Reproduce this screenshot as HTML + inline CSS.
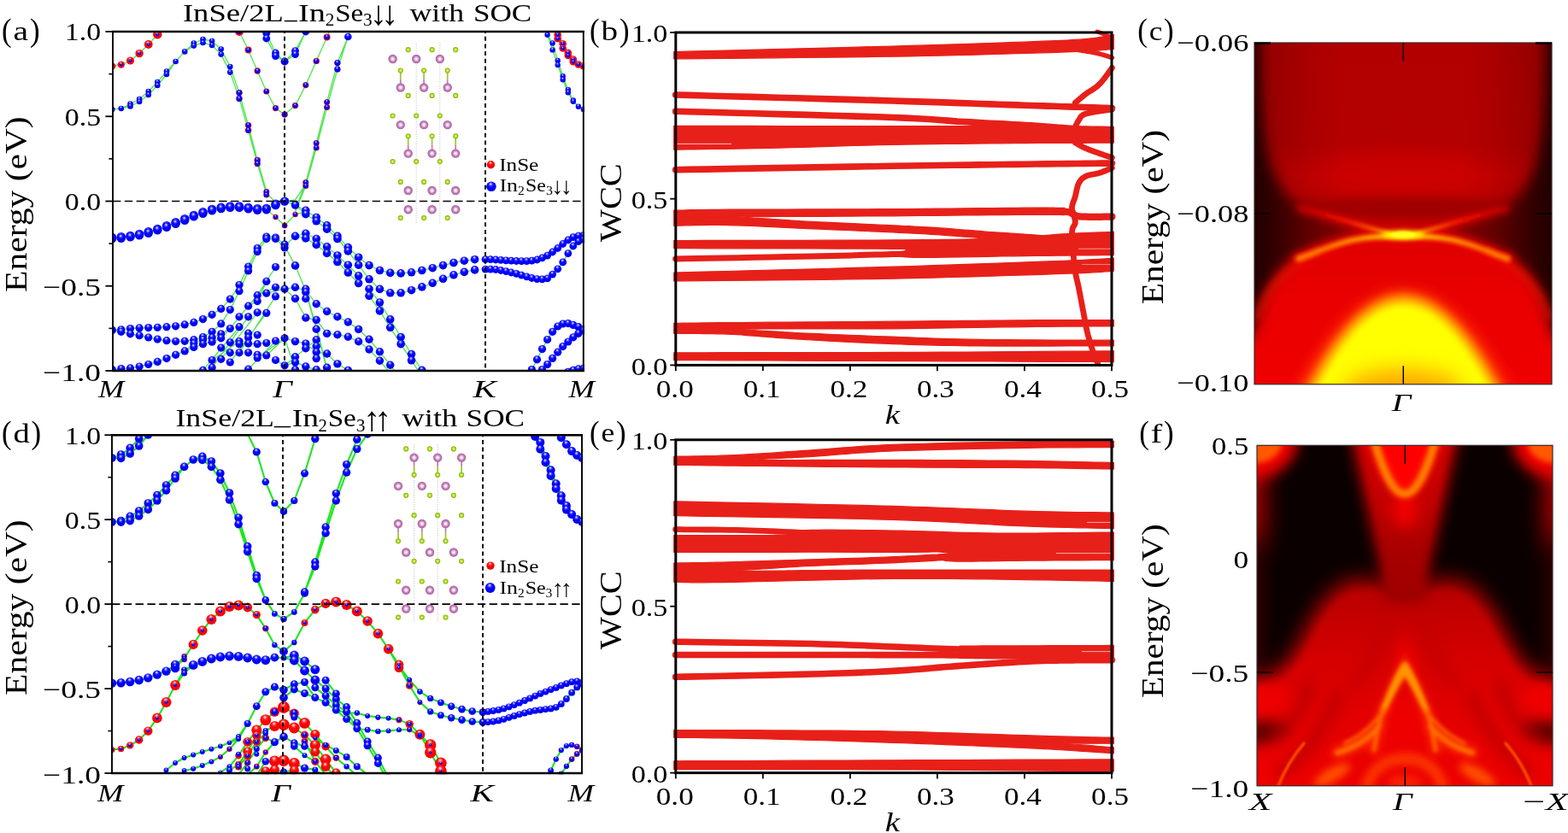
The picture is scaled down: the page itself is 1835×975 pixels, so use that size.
<!DOCTYPE html>
<html><head><meta charset="utf-8"><title>Figure</title>
<style>
html,body{margin:0;padding:0;background:#fff;}
svg{display:block;font-family:"Liberation Serif",serif;}
</style></head><body>
<svg width="1835" height="975" viewBox="0 0 1835 975">
<rect width="1835" height="975" fill="#fff"/>
<defs>
<filter id="b1" filterUnits="userSpaceOnUse" x="1380" y="0" width="520" height="975"><feGaussianBlur stdDeviation="1.2"/></filter>
<filter id="b2" filterUnits="userSpaceOnUse" x="1380" y="0" width="520" height="975"><feGaussianBlur stdDeviation="2"/></filter>
<filter id="b3" filterUnits="userSpaceOnUse" x="1380" y="0" width="520" height="975"><feGaussianBlur stdDeviation="3"/></filter>
<filter id="b5" filterUnits="userSpaceOnUse" x="1380" y="0" width="520" height="975"><feGaussianBlur stdDeviation="5"/></filter>
<filter id="b8" filterUnits="userSpaceOnUse" x="1380" y="0" width="520" height="975"><feGaussianBlur stdDeviation="8"/></filter>
<filter id="b12" filterUnits="userSpaceOnUse" x="1380" y="0" width="520" height="975"><feGaussianBlur stdDeviation="12"/></filter>
<clipPath id="clc"><rect x="1468" y="50" width="348" height="399.8"/></clipPath>
<clipPath id="clf"><rect x="1471" y="521.3" width="346" height="398.5"/></clipPath>
<linearGradient id="cbase" x1="0" y1="50" x2="0" y2="450" gradientUnits="userSpaceOnUse">
 <stop offset="0" stop-color="#b20000"/><stop offset="0.3" stop-color="#b40000"/>
 <stop offset="0.39" stop-color="#c60000"/><stop offset="0.44" stop-color="#c00000"/>
 <stop offset="0.485" stop-color="#a20000"/><stop offset="0.53" stop-color="#c80000"/>
 <stop offset="0.6" stop-color="#e00000"/><stop offset="0.75" stop-color="#ea0000"/><stop offset="1" stop-color="#f00000"/>
</linearGradient>
<linearGradient id="cside" x1="1468" y1="0" x2="1642" y2="0" gradientUnits="userSpaceOnUse">
 <stop offset="0" stop-color="#000" stop-opacity="0.4"/><stop offset="0.1" stop-color="#000" stop-opacity="0.16"/>
 <stop offset="0.4" stop-color="#000" stop-opacity="0.04"/><stop offset="0.6" stop-color="#000" stop-opacity="0"/>
</linearGradient>
<linearGradient id="csideR" x1="1816" y1="0" x2="1642" y2="0" gradientUnits="userSpaceOnUse">
 <stop offset="0" stop-color="#000" stop-opacity="0.4"/><stop offset="0.1" stop-color="#000" stop-opacity="0.16"/>
 <stop offset="0.4" stop-color="#000" stop-opacity="0.04"/><stop offset="0.6" stop-color="#000" stop-opacity="0"/>
</linearGradient>
<linearGradient id="cdark" x1="1440" y1="0" x2="1625" y2="0" gradientUnits="userSpaceOnUse">
 <stop offset="0" stop-color="#140000"/><stop offset="0.25" stop-color="#2c0000"/>
 <stop offset="0.5" stop-color="#600000"/><stop offset="1" stop-color="#a00000"/>
</linearGradient>
<linearGradient id="cdarkR" x1="1844" y1="0" x2="1659" y2="0" gradientUnits="userSpaceOnUse">
 <stop offset="0" stop-color="#140000"/><stop offset="0.25" stop-color="#2c0000"/>
 <stop offset="0.5" stop-color="#600000"/><stop offset="1" stop-color="#a00000"/>
</linearGradient>
<linearGradient id="carm" x1="1515" y1="0" x2="1769" y2="0" gradientUnits="userSpaceOnUse">
 <stop offset="0" stop-color="#d80000" stop-opacity="0.15"/><stop offset="0.14" stop-color="#e80800" stop-opacity="0.8"/><stop offset="0.27" stop-color="#ff2400"/>
 <stop offset="0.38" stop-color="#ff8000"/><stop offset="0.45" stop-color="#ffe000"/><stop offset="0.5" stop-color="#ffff00"/>
 <stop offset="0.55" stop-color="#ffe000"/><stop offset="0.62" stop-color="#ff8000"/><stop offset="0.73" stop-color="#ff2400"/><stop offset="0.86" stop-color="#e80800" stop-opacity="0.8"/>
 <stop offset="1" stop-color="#d80000" stop-opacity="0.15"/>
</linearGradient>
<linearGradient id="carm2" x1="1515" y1="0" x2="1769" y2="0" gradientUnits="userSpaceOnUse">
 <stop offset="0" stop-color="#ff5800"/><stop offset="0.1" stop-color="#ff7800"/>
 <stop offset="0.28" stop-color="#ff9800"/><stop offset="0.4" stop-color="#ffc800"/><stop offset="0.5" stop-color="#ffff00"/>
 <stop offset="0.6" stop-color="#ffc800"/><stop offset="0.72" stop-color="#ff9800"/><stop offset="0.9" stop-color="#ff7800"/>
 <stop offset="1" stop-color="#ff5800"/>
</linearGradient>
<linearGradient id="ffun" x1="0" y1="521" x2="0" y2="700" gradientUnits="userSpaceOnUse">
 <stop offset="0" stop-color="#d60000"/><stop offset="0.35" stop-color="#c40000"/><stop offset="0.7" stop-color="#a80000"/><stop offset="1" stop-color="#a00000"/>
</linearGradient>
<linearGradient id="fval" x1="0" y1="670" x2="0" y2="920" gradientUnits="userSpaceOnUse">
 <stop offset="0" stop-color="#b00000"/><stop offset="0.2" stop-color="#c40000"/><stop offset="0.45" stop-color="#d80000"/><stop offset="0.7" stop-color="#e40000"/><stop offset="1" stop-color="#ee0000"/>
</linearGradient>
</defs>
<g clip-path="url(#clc)">
<rect x="1468" y="50" width="348" height="400" fill="url(#cbase)"/>
<ellipse cx="1642" cy="206" rx="95" ry="24" fill="#cc0000" filter="url(#b12)"/>
<ellipse cx="1642" cy="243" rx="95" ry="10" fill="#9c0000" filter="url(#b8)"/>
<rect x="1468" y="50" width="174" height="244" fill="url(#cside)"/>
<rect x="1642" y="50" width="174" height="244" fill="url(#csideR)"/>
<g filter="url(#b8)">
<path d="M 1430.0,30.0 L 1471.0,30.0 1472.0,60.0 1474.0,110.0 1478.0,155.0 1486.0,192.0 1500.0,222.0 1518.0,241.0 1560.0,257.0 1595.0,267.5 1622.0,273.5 1595.0,277.5 1560.0,283.5 1532.0,293.0 1512.0,304.0 1498.0,317.0 1487.0,332.0 1478.0,350.0 1471.0,372.0 1466.0,392.0 1430.0,396.0 Z " fill="url(#cdark)"/>
<path d="M 1854.0,30.0 L 1813.0,30.0 1812.0,60.0 1810.0,110.0 1806.0,155.0 1798.0,192.0 1784.0,222.0 1766.0,241.0 1724.0,257.0 1689.0,267.5 1662.0,273.5 1689.0,277.5 1724.0,283.5 1752.0,293.0 1772.0,304.0 1786.0,317.0 1797.0,332.0 1806.0,350.0 1813.0,372.0 1818.0,392.0 1854.0,396.0 Z " fill="url(#cdarkR)"/>
</g>
<g filter="url(#b5)" opacity="0.55">
<path d="M 1470.0,372.0 C 1482.0,340.0 1500.0,318.0 1524.0,306.0" fill="none" stroke="#ff2000" stroke-width="7" stroke-linecap="round"/>
<path d="M 1814.0,372.0 C 1802.0,340.0 1784.0,318.0 1760.0,306.0" fill="none" stroke="#ff2000" stroke-width="7" stroke-linecap="round"/>
</g>
<g filter="url(#b5)" opacity="0.8">
<path d="M 1519.0,303.0 C 1540.0,296.0 1558.0,286.5 1583.0,281.0 S 1622.0,277.0 1642.0,277.0" fill="none" stroke="#ff1000" stroke-width="13" stroke-linecap="round"/>
<path d="M 1765.0,303.0 C 1744.0,296.0 1726.0,286.5 1701.0,281.0 S 1662.0,277.0 1642.0,277.0" fill="none" stroke="#ff1000" stroke-width="13" stroke-linecap="round"/>
<path d="M 1521.0,244.0 C 1548.0,249.0 1585.0,262.0 1612.0,269.5 S 1632.0,273.0 1642.0,273.0" fill="none" stroke="#e00000" stroke-width="8" stroke-linecap="round"/>
<path d="M 1763.0,244.0 C 1736.0,249.0 1699.0,262.0 1672.0,269.5 S 1652.0,273.0 1642.0,273.0" fill="none" stroke="#e00000" stroke-width="8" stroke-linecap="round"/>
</g>
<g filter="url(#b2)">
<path d="M 1521.0,244.0 C 1548.0,249.0 1585.0,262.0 1612.0,269.5 S 1632.0,273.0 1642.0,273.0" fill="none" stroke="url(#carm)" stroke-width="4.2" stroke-linecap="round"/>
<path d="M 1763.0,244.0 C 1736.0,249.0 1699.0,262.0 1672.0,269.5 S 1652.0,273.0 1642.0,273.0" fill="none" stroke="url(#carm)" stroke-width="4.2" stroke-linecap="round"/>
<path d="M 1519.0,303.0 C 1540.0,296.0 1558.0,286.5 1583.0,281.0 S 1622.0,277.0 1642.0,277.0" fill="none" stroke="url(#carm2)" stroke-width="5.5" stroke-linecap="round"/>
<path d="M 1765.0,303.0 C 1744.0,296.0 1726.0,286.5 1701.0,281.0 S 1662.0,277.0 1642.0,277.0" fill="none" stroke="url(#carm2)" stroke-width="5.5" stroke-linecap="round"/>
<path d="M 1520.0,302.6 C 1528.0,300.0 1536.0,297.0 1544.0,293.4" fill="none" stroke="#ff7800" stroke-width="7" stroke-linecap="round"/>
<path d="M 1764.0,302.6 C 1756.0,300.0 1748.0,297.0 1740.0,293.4" fill="none" stroke="#ff7800" stroke-width="7" stroke-linecap="round"/>
</g>
<ellipse cx="1642" cy="274.8" rx="23" ry="4.2" fill="#ffff00" filter="url(#b3)"/>
<ellipse cx="1642" cy="274.8" rx="15" ry="3.2" fill="#ffff20" filter="url(#b1)"/>
<path d="M 1504,480 Q 1642.5,196 1781,480 Z" fill="#ff3000" filter="url(#b8)" opacity="0.9"/>
<path d="M 1515,480 Q 1642.5,208 1770,480 Z" fill="#ff9000" filter="url(#b5)"/>
<path d="M 1526,480 Q 1642.5,228 1759,480 Z" fill="#ffff00" filter="url(#b5)"/>
<ellipse cx="1642" cy="458" rx="70" ry="26" fill="#ffa800" filter="url(#b12)"/>
</g>
<g clip-path="url(#clf)">
<rect x="1471" y="521" width="346" height="400" fill="#0a0000"/>
<g filter="url(#b12)">
<rect x="1436" y="500" width="46" height="140" fill="#a00000"/>
<rect x="1806" y="500" width="46" height="140" fill="#a00000"/>
<rect x="1440" y="620" width="36" height="170" fill="#3a0000"/>
<rect x="1812" y="620" width="36" height="170" fill="#3a0000"/>
</g>
<path d="M 1430.0,796.0 L 1471.0,794.0 1492.0,788.0 1508.0,774.0 1522.0,750.0 1538.0,718.0 1556.0,694.0 1574.0,681.0 1592.0,677.0 1612.0,680.0 1630.0,688.0 1644.0,694.0 1658.0,688.0 1676.0,680.0 1696.0,677.0 1714.0,681.0 1732.0,694.0 1750.0,718.0 1766.0,750.0 1780.0,774.0 1796.0,788.0 1817.0,794.0 1860.0,796.0 1860.0,960.0 1430.0,960.0 Z " fill="url(#fval)" filter="url(#b12)"/>
<path d="M 1430.0,812.0 L 1471.0,808.0 1496.0,800.0 1514.0,784.0 1530.0,758.0 1546.0,728.0 1562.0,706.0 1580.0,694.0 1598.0,690.0 1620.0,694.0 1644.0,704.0 1668.0,694.0 1690.0,690.0 1708.0,694.0 1726.0,706.0 1742.0,728.0 1758.0,758.0 1774.0,784.0 1792.0,800.0 1817.0,808.0 1860.0,812.0 1860.0,960.0 1430.0,960.0 Z " fill="url(#fval)" filter="url(#b5)"/>
<path d="M 1573,470 L 1715,470 L 1673,665 L 1668,705 L 1620,705 L 1615,665 Z" fill="url(#ffun)" filter="url(#b8)"/>
<path d="M 1584,470 L 1704,470 L 1668,650 L 1662,700 L 1626,700 L 1620,650 Z" fill="url(#ffun)" filter="url(#b5)" opacity="0.7"/>
<g filter="url(#b8)"><ellipse cx="1466" cy="516" rx="52" ry="44" fill="#f00000"/><ellipse cx="1822" cy="516" rx="52" ry="44" fill="#f00000"/></g>
<g filter="url(#b3)"><ellipse cx="1468" cy="518" rx="32" ry="24" fill="#ff5800"/><ellipse cx="1820" cy="518" rx="32" ry="24" fill="#ff5800"/></g>
<path d="M 1606,500 Q 1644,654 1682,500 Z" fill="#ff0000" filter="url(#b5)"/>
<ellipse cx="1644" cy="596" rx="15" ry="22" fill="#f00000" filter="url(#b8)"/>
<path d="M 1604,500 Q 1644,656 1684,500" fill="none" stroke="#ff3800" stroke-width="14" filter="url(#b3)" opacity="0.85"/>
<path d="M 1604,500 Q 1644,656 1684,500" fill="none" stroke="#ff7c00" stroke-width="8" filter="url(#b2)"/>
<g filter="url(#b8)">
<ellipse cx="1476" cy="857" rx="34" ry="13" transform="rotate(-8 1476 857)" fill="#5a0000"/>
<ellipse cx="1812" cy="857" rx="34" ry="13" transform="rotate(8 1812 857)" fill="#5a0000"/>
<path d="M 1490.0,858.0 C 1512.0,852.0 1524.0,835.0 1532.0,800.0" fill="none" stroke="#a80000" stroke-width="9" stroke-linecap="round" opacity="0.9"/>
<path d="M 1798.0,858.0 C 1776.0,852.0 1764.0,835.0 1756.0,800.0" fill="none" stroke="#a80000" stroke-width="9" stroke-linecap="round" opacity="0.9"/>
<path d="M 1500.0,905.0 C 1530.0,880.0 1552.0,850.0 1565.0,815.0" fill="none" stroke="#b80000" stroke-width="14" stroke-linecap="round" opacity="0.8"/>
<path d="M 1788.0,905.0 C 1758.0,880.0 1736.0,850.0 1723.0,815.0" fill="none" stroke="#b80000" stroke-width="14" stroke-linecap="round" opacity="0.8"/>
<path d="M 1585.0,800.0 C 1600.0,790.0 1612.0,760.0 1622.0,730.0" fill="none" stroke="#c00000" stroke-width="14" stroke-linecap="round" opacity="0.7"/>
<path d="M 1703.0,800.0 C 1688.0,790.0 1676.0,760.0 1666.0,730.0" fill="none" stroke="#c00000" stroke-width="14" stroke-linecap="round" opacity="0.7"/>
</g>
<g filter="url(#b8)">
<ellipse cx="1483" cy="818" rx="26" ry="16" fill="#f00000"/><ellipse cx="1805" cy="818" rx="26" ry="16" fill="#f00000"/>
<ellipse cx="1644" cy="860" rx="26" ry="45" fill="#ee0000"/>
<path d="M 1644,735 L 1654,790 L 1634,790 Z" fill="#ff1000"/>
</g>
<g filter="url(#b5)">
<path d="M 1598,925 C 1606,898 1622,888 1644,888 C 1666,888 1682,898 1690,925" fill="none" stroke="#ff4000" stroke-width="13" opacity="0.85"/>
<ellipse cx="1644" cy="916" rx="20" ry="9" fill="#ff3000" opacity="0.7"/>
<ellipse cx="1559" cy="907" rx="24" ry="8" transform="rotate(-30 1559 907)" fill="#ff5000"/>
<ellipse cx="1729" cy="907" rx="24" ry="8" transform="rotate(30 1729 907)" fill="#ff5000"/>
</g>
<g filter="url(#b1)">
<path d="M 1495.0,922.0 C 1503.0,902.0 1512.0,886.0 1526.0,870.0" fill="none" stroke="#ff5400" stroke-width="3.2" stroke-linecap="round"/>
<path d="M 1793.0,922.0 C 1785.0,902.0 1776.0,886.0 1762.0,870.0" fill="none" stroke="#ff5400" stroke-width="3.2" stroke-linecap="round"/>
</g>
<g filter="url(#b5)" opacity="0.85">
<path d="M 1644.0,781.0 C 1637.0,789.0 1631.0,804.0 1623.5,821.0 S 1613.0,846.0 1608.0,878.0" fill="none" stroke="#ff2800" stroke-width="13" stroke-linecap="round"/>
<path d="M 1644.0,781.0 C 1651.0,789.0 1657.0,804.0 1664.5,821.0 S 1675.0,846.0 1680.0,878.0" fill="none" stroke="#ff2800" stroke-width="13" stroke-linecap="round"/>
<path d="M 1614.0,850.0 C 1601.0,866.0 1586.0,875.0 1565.0,881.0" fill="none" stroke="#ff3000" stroke-width="14" stroke-linecap="round"/>
<path d="M 1674.0,850.0 C 1687.0,866.0 1702.0,875.0 1723.0,881.0" fill="none" stroke="#ff3000" stroke-width="14" stroke-linecap="round"/>
</g>
<g filter="url(#b2)">
<path d="M 1644.0,781.0 C 1637.0,789.0 1631.0,804.0 1623.5,821.0 S 1613.0,846.0 1608.0,878.0" fill="none" stroke="#ff6800" stroke-width="4.5" stroke-linecap="round"/>
<path d="M 1644.0,781.0 C 1651.0,789.0 1657.0,804.0 1664.5,821.0 S 1675.0,846.0 1680.0,878.0" fill="none" stroke="#ff6800" stroke-width="4.5" stroke-linecap="round"/>
<path d="M 1644.0,775.0 C 1649.0,780.0 1655.0,792.0 1662.0,808.0 L 1672.0,832.0 1668.0,834.0 C 1660.0,818.0 1652.0,800.0 1644.0,790.0 C 1636.0,800.0 1628.0,818.0 1620.0,834.0 L 1616.0,832.0 1626.0,808.0 C 1633.0,792.0 1639.0,780.0 1644.0,775.0 Z " fill="#ff9400" stroke="#ff9000" stroke-width="2.5" stroke-linejoin="round"/>
<path d="M 1620.0,830.0 C 1607.0,850.0 1592.0,862.0 1574.0,870.0" fill="none" stroke="#ff6000" stroke-width="4" stroke-linecap="round"/>
<path d="M 1668.0,830.0 C 1681.0,850.0 1696.0,862.0 1714.0,870.0" fill="none" stroke="#ff6000" stroke-width="4" stroke-linecap="round"/>
<path d="M 1614.0,850.0 C 1601.0,866.0 1586.0,875.0 1565.0,881.0" fill="none" stroke="#ff7000" stroke-width="5.5" stroke-linecap="round"/>
<path d="M 1674.0,850.0 C 1687.0,866.0 1702.0,875.0 1723.0,881.0" fill="none" stroke="#ff7000" stroke-width="5.5" stroke-linecap="round"/>
</g>
</g>
<g>
<path d="M788.6,60.6 L804.3,60.2 L825.1,59.7 L849.9,59.1 L877.6,58.4 L907.1,57.6 L937.4,56.8 L967.5,56.1 L996.1,55.3 L1022.3,54.6 L1045.0,54.0 L1065.0,53.4 L1083.8,52.9 L1101.6,52.3 L1118.4,51.8 L1134.2,51.3 L1149.0,50.8 L1162.9,50.3 L1176.1,49.9 L1188.4,49.4 L1200.0,49.0 L1210.6,48.6 L1220.0,48.2 L1228.4,47.9 L1235.9,47.6 L1242.6,47.3 L1248.7,47.0 L1254.4,46.7 L1259.7,46.4 L1264.9,46.0 L1270.0,45.6 L1275.0,45.1 L1279.6,44.6 L1283.8,44.0 L1287.6,43.4 L1291.1,42.8 L1294.2,42.3 L1297.0,41.7 L1299.4,41.2 L1301.6,40.8 L1303.4,40.5 L1303.4,57.4 L1301.6,57.6 L1299.4,57.8 L1297.0,58.0 L1294.2,58.3 L1291.1,58.5 L1287.6,58.8 L1283.8,59.2 L1279.6,59.5 L1275.0,59.7 L1270.0,60.0 L1264.9,60.2 L1259.7,60.5 L1254.4,60.7 L1248.7,60.9 L1242.6,61.1 L1235.9,61.3 L1228.4,61.6 L1220.0,61.8 L1210.6,62.1 L1200.0,62.4 L1188.4,62.7 L1176.1,63.1 L1162.9,63.5 L1149.0,63.9 L1134.2,64.3 L1118.4,64.7 L1101.6,65.1 L1083.8,65.5 L1065.0,65.9 L1045.0,66.2 L1022.3,66.5 L996.1,66.9 L967.5,67.2 L937.4,67.5 L907.1,67.8 L877.6,68.1 L849.9,68.4 L825.1,68.6 L804.3,68.8 L788.6,69.0Z" fill="#e8201a" stroke="#e8201a" stroke-width="1.2" stroke-linejoin="round"/>
<path d="M1262.0,58.5 L1263.1,58.7 L1264.5,58.9 L1266.3,59.2 L1268.2,59.5 L1270.2,59.8 L1272.4,60.2 L1274.5,60.5 L1276.5,60.9 L1278.4,61.2 L1280.0,61.5 L1281.5,61.8 L1282.8,62.1 L1284.1,62.4 L1285.4,62.7 L1286.5,63.0 L1287.7,63.3 L1288.8,63.6 L1289.9,63.9 L1290.9,64.2 L1292.0,64.5 L1293.1,64.8 L1294.2,65.1 L1295.3,65.5 L1296.4,65.8 L1297.5,66.2 L1298.4,66.5 L1299.4,66.8 L1300.2,67.1 L1300.9,67.3 L1301.4,67.5" fill="none" stroke="#e8201a" stroke-width="5.5" stroke-linecap="round" stroke-linejoin="round"/>
<path d="M1284.0,37.0 L1284.5,37.2 L1285.1,37.4 L1285.8,37.6 L1286.6,37.9 L1287.5,38.2 L1288.4,38.6 L1289.3,38.9 L1290.3,39.3 L1291.2,39.6 L1292.0,40.0 L1292.8,40.4 L1293.7,40.8 L1294.7,41.3 L1295.6,41.7 L1296.5,42.2 L1297.4,42.6 L1298.2,43.1 L1298.9,43.4 L1299.5,43.8 L1300.0,44.0" fill="none" stroke="#e8201a" stroke-width="5" stroke-linecap="round" stroke-linejoin="round"/>
<path d="M790.6,111.0 L806.3,111.4 L827.1,112.0 L852.0,112.7 L879.8,113.4 L909.4,114.2 L939.6,115.0 L969.4,115.9 L997.7,116.6 L1023.3,117.4 L1045.0,118.0 L1063.6,118.6 L1080.7,119.1 L1096.3,119.6 L1110.7,120.1 L1124.0,120.6 L1136.4,121.0 L1148.0,121.5 L1159.1,121.9 L1169.7,122.2 L1180.0,122.6 L1189.7,122.9 L1198.5,123.2 L1206.4,123.5 L1213.6,123.7 L1220.2,123.9 L1226.5,124.1 L1232.4,124.3 L1238.2,124.5 L1244.0,124.7 L1250.0,124.9 L1256.1,125.1 L1262.3,125.3 L1268.4,125.5 L1274.4,125.7 L1280.1,125.9 L1285.4,126.1 L1290.3,126.2 L1294.7,126.4 L1298.4,126.5 L1301.4,126.6" fill="none" stroke="#e8201a" stroke-width="7.6" stroke-linecap="round" stroke-linejoin="round"/>
<path d="M790.6,130.3 L806.5,130.7 L828.0,131.3 L853.7,132.0 L882.3,132.8 L912.7,133.6 L943.4,134.4 L973.3,135.3 L1001.1,136.1 L1025.4,136.8 L1045.0,137.5 L1060.2,138.1 L1072.6,138.7 L1082.6,139.2 L1090.6,139.7 L1097.3,140.2 L1103.1,140.7 L1108.5,141.1 L1113.9,141.6 L1119.9,142.1 L1127.0,142.5 L1134.7,142.9 L1142.4,143.4 L1150.1,143.8 L1157.7,144.2 L1165.1,144.6 L1172.5,144.9 L1179.6,145.3 L1186.6,145.7 L1193.4,146.1 L1200.0,146.5 L1206.5,146.9 L1213.2,147.4 L1219.8,147.8 L1226.3,148.3 L1232.6,148.8 L1238.4,149.2 L1243.9,149.6 L1248.7,150.0 L1252.7,150.3 L1256.0,150.5" fill="none" stroke="#e8201a" stroke-width="7.6" stroke-linecap="round" stroke-linejoin="round"/>
<path d="M788.6,147.3 L804.6,147.3 L826.3,147.3 L852.2,147.4 L881.1,147.4 L911.7,147.5 L942.7,147.5 L972.8,147.5 L1000.8,147.6 L1025.3,147.6 L1045.0,147.6 L1060.1,147.6 L1071.8,147.6 L1080.9,147.6 L1088.1,147.6 L1094.0,147.6 L1099.2,147.6 L1104.4,147.6 L1110.4,147.6 L1117.7,147.6 L1127.0,147.6 L1138.4,147.6 L1151.1,147.6 L1164.8,147.6 L1179.1,147.6 L1193.7,147.7 L1208.0,147.7 L1221.8,147.7 L1234.7,147.7 L1246.2,147.8 L1256.0,147.8 L1264.3,147.8 L1271.5,147.9 L1277.7,148.0 L1283.1,148.0 L1287.8,148.1 L1291.8,148.2 L1295.2,148.3 L1298.3,148.3 L1300.9,148.4 L1303.4,148.4 L1303.4,167.2 L1297.5,167.2 L1290.2,167.2 L1281.6,167.2 L1272.0,167.3 L1261.4,167.3 L1250.0,167.3 L1238.1,167.4 L1225.6,167.4 L1212.9,167.5 L1200.0,167.6 L1186.5,167.7 L1172.1,167.8 L1157.0,168.0 L1141.2,168.1 L1125.1,168.3 L1108.8,168.5 L1092.4,168.7 L1076.2,168.9 L1060.3,169.1 L1045.0,169.4 L1029.9,169.7 L1014.8,170.1 L999.7,170.5 L984.7,170.9 L969.8,171.4 L955.1,171.9 L940.7,172.3 L926.7,172.7 L913.1,173.1 L900.0,173.4 L887.0,173.7 L873.8,173.9 L860.6,174.2 L847.7,174.4 L835.2,174.5 L823.5,174.7 L812.8,174.9 L803.2,175.0 L795.1,175.1 L788.6,175.2Z" fill="#e8201a" stroke="#e8201a" stroke-width="1.2" stroke-linejoin="round"/>
<path d="M 792,168.4 L 856,168.4" stroke="#fff" stroke-width="0.9" opacity="0.8"/>
<path d="M790.6,198.7 L806.2,198.4 L826.8,198.1 L851.4,197.6 L878.8,197.1 L908.1,196.6 L938.2,196.1 L968.0,195.6 L996.4,195.1 L1022.4,194.7 L1045.0,194.3 L1064.8,194.0 L1083.2,193.7 L1100.5,193.5 L1116.7,193.3 L1132.1,193.1 L1146.6,192.9 L1160.6,192.7 L1174.0,192.5 L1187.1,192.4 L1200.0,192.2 L1212.8,192.0 L1225.3,191.9 L1237.6,191.7 L1249.3,191.6 L1260.4,191.5 L1270.7,191.4 L1280.1,191.2 L1288.5,191.1 L1295.6,191.1 L1301.4,191.0" fill="none" stroke="#e8201a" stroke-width="7.6" stroke-linecap="round" stroke-linejoin="round"/>
<path d="M1301.4,79.4 L1300.8,80.3 L1299.9,81.4 L1299.0,82.8 L1297.9,84.3 L1296.7,86.0 L1295.5,87.7 L1294.3,89.3 L1293.1,90.9 L1292.0,92.4 L1291.0,93.6 L1290.1,94.7 L1289.3,95.6 L1288.6,96.5 L1287.8,97.3 L1287.1,98.1 L1286.4,98.8 L1285.6,99.5 L1284.8,100.3 L1284.0,101.0 L1283.0,101.8 L1281.9,102.6 L1280.8,103.4 L1279.6,104.2 L1278.4,105.0 L1277.1,105.8 L1275.8,106.6 L1274.5,107.4 L1273.1,108.2 L1271.9,109.1 L1270.6,110.0 L1269.3,111.0 L1267.9,112.1 L1266.5,113.3 L1265.1,114.5 L1263.7,115.7 L1262.3,116.8 L1261.1,117.9 L1260.0,118.9 L1259.0,119.7 L1258.3,120.3" fill="none" stroke="#e8201a" stroke-width="6.8" stroke-linecap="round" stroke-linejoin="round"/>
<path d="M1301.4,128.0 L1299.5,128.3 L1296.8,128.7 L1293.7,129.1 L1290.2,129.6 L1286.5,130.1 L1282.8,130.7 L1279.1,131.3 L1275.8,131.9 L1272.9,132.6 L1270.6,133.2 L1268.8,133.9 L1267.4,134.6 L1266.3,135.3 L1265.5,136.0 L1264.8,136.8 L1264.3,137.6 L1263.8,138.4 L1263.4,139.2 L1263.0,140.0 L1262.4,140.8 L1261.8,141.6 L1261.3,142.5 L1260.7,143.5 L1260.3,144.4 L1259.8,145.4 L1259.4,146.3 L1259.1,147.1 L1258.8,147.9 L1258.5,148.5 L1258.3,149.0" fill="none" stroke="#e8201a" stroke-width="6.8" stroke-linecap="round" stroke-linejoin="round"/>
<path d="M1258.3,167.0 L1259.0,167.4 L1259.9,167.9 L1261.0,168.5 L1262.1,169.2 L1263.4,169.9 L1264.8,170.7 L1266.2,171.4 L1267.7,172.2 L1269.1,172.9 L1270.6,173.6 L1272.1,174.2 L1273.6,174.9 L1275.3,175.5 L1277.0,176.1 L1278.7,176.8 L1280.4,177.4 L1282.1,178.0 L1283.8,178.6 L1285.4,179.1 L1287.0,179.7 L1288.6,180.3 L1290.2,180.8 L1291.9,181.4 L1293.6,181.9 L1295.2,182.5 L1296.8,183.0 L1298.2,183.5 L1299.5,183.9 L1300.6,184.2 L1301.4,184.5" fill="none" stroke="#e8201a" stroke-width="6.8" stroke-linecap="round" stroke-linejoin="round"/>
<path d="M1301.4,196.5 L1300.6,196.9 L1299.5,197.3 L1298.2,197.9 L1296.8,198.5 L1295.2,199.1 L1293.6,199.8 L1291.9,200.5 L1290.2,201.2 L1288.6,201.8 L1287.0,202.3 L1285.4,202.8 L1283.7,203.2 L1282.0,203.5 L1280.2,203.9 L1278.4,204.2 L1276.7,204.5 L1275.0,204.9 L1273.4,205.3 L1271.9,205.8 L1270.6,206.4 L1269.4,207.0 L1268.4,207.7 L1267.4,208.3 L1266.5,209.0 L1265.7,209.8 L1265.0,210.6 L1264.3,211.5 L1263.6,212.4 L1263.0,213.5 L1262.4,214.6 L1261.8,215.9 L1261.3,217.3 L1260.9,218.8 L1260.5,220.4 L1260.1,222.0 L1259.7,223.7 L1259.4,225.4 L1259.0,227.0 L1258.7,228.6 L1258.3,230.0 L1257.9,231.4 L1257.4,232.7 L1257.0,234.0 L1256.5,235.3 L1256.0,236.6 L1255.6,237.8 L1255.2,239.0 L1254.9,240.2 L1254.7,241.2 L1254.5,242.3 L1254.5,243.3 L1254.5,244.2 L1254.6,245.0 L1254.8,245.8 L1255.0,246.5 L1255.3,247.3 L1255.6,248.0 L1255.8,248.8 L1256.1,249.6 L1256.3,250.5 L1256.5,251.4 L1256.8,252.4 L1257.1,253.4 L1257.4,254.5 L1257.6,255.5 L1257.9,256.6 L1258.1,257.7 L1258.3,258.7 L1258.3,259.8 L1258.3,260.8 L1258.1,261.7 L1257.8,262.6 L1257.4,263.3 L1257.0,264.0 L1256.5,264.8 L1256.0,265.6 L1255.5,266.6 L1255.1,267.8 L1254.8,269.2 L1254.6,271.0 L1254.5,273.2 L1254.6,275.7 L1254.7,278.6 L1254.9,281.6 L1255.1,284.8 L1255.3,288.1 L1255.6,291.3 L1255.9,294.3 L1256.1,297.2 L1256.3,299.7 L1256.5,302.0 L1256.6,304.1 L1256.8,306.0 L1257.0,307.8 L1257.1,309.6 L1257.3,311.3 L1257.5,313.0 L1257.8,314.7 L1258.0,316.4 L1258.3,318.2 L1258.6,320.0 L1259.0,321.7 L1259.3,323.3 L1259.7,324.9 L1260.1,326.6 L1260.5,328.3 L1260.9,330.1 L1261.4,332.1 L1261.9,334.3 L1262.4,336.7 L1262.9,339.5 L1263.5,342.5 L1264.2,345.9 L1264.8,349.4 L1265.5,353.0 L1266.2,356.6 L1266.8,360.1 L1267.5,363.5 L1268.1,366.7 L1268.6,369.5 L1269.1,372.0 L1269.5,374.4 L1269.9,376.6 L1270.3,378.6 L1270.7,380.5 L1271.0,382.4 L1271.4,384.2 L1271.8,386.1 L1272.2,388.0 L1272.7,390.0 L1273.2,392.1 L1273.8,394.2 L1274.4,396.3 L1275.0,398.5 L1275.7,400.6 L1276.3,402.7 L1276.9,404.8 L1277.6,406.8 L1278.2,408.7 L1278.8,410.5 L1279.4,412.3 L1280.1,414.0 L1280.7,415.7 L1281.4,417.4 L1282.0,419.0 L1282.6,420.5 L1283.2,421.9 L1283.7,423.1 L1284.2,424.2 L1284.5,425.0" fill="none" stroke="#e8201a" stroke-width="6.8" stroke-linecap="round" stroke-linejoin="round"/>
<path d="M788.6,246.2 L791.8,246.1 L795.1,246.1 L798.9,246.0 L803.2,245.9 L808.2,245.7 L814.3,245.6 L821.5,245.5 L830.0,245.4 L840.1,245.3 L852.0,245.2 L866.2,245.1 L882.9,245.1 L901.6,245.0 L921.7,245.0 L942.8,244.9 L964.3,244.9 L985.8,244.8 L1006.8,244.8 L1026.7,244.7 L1045.0,244.6 L1062.5,244.5 L1080.2,244.3 L1097.7,244.2 L1115.0,244.0 L1131.7,243.8 L1147.7,243.7 L1162.7,243.5 L1176.6,243.4 L1189.1,243.3 L1200.0,243.2 L1209.2,243.2 L1216.9,243.1 L1223.3,243.1 L1228.5,243.2 L1232.7,243.2 L1236.1,243.3 L1239.0,243.3 L1241.5,243.3 L1243.8,243.4 L1246.0,243.4 L1246.0,251.6 L1243.8,251.6 L1241.5,251.5 L1239.0,251.5 L1236.1,251.5 L1232.7,251.4 L1228.5,251.4 L1223.3,251.3 L1216.9,251.3 L1209.2,251.4 L1200.0,251.4 L1188.9,251.5 L1175.8,251.6 L1161.2,251.7 L1145.4,251.9 L1128.7,252.0 L1111.5,252.2 L1094.2,252.4 L1077.1,252.5 L1060.6,252.7 L1045.0,252.8 L1029.7,252.9 L1013.8,253.0 L997.7,253.1 L981.6,253.2 L965.8,253.3 L950.5,253.3 L936.1,253.4 L922.6,253.5 L910.5,253.5 L900.0,253.6 L891.3,253.7 L884.4,253.7 L879.0,253.7 L874.6,253.7 L870.9,253.8 L867.7,253.8 L864.5,253.8 L861.0,253.9 L857.0,253.9 L852.0,254.0 L846.0,254.1 L839.3,254.3 L832.1,254.4 L824.7,254.6 L817.3,254.8 L810.1,255.0 L803.4,255.1 L797.5,255.3 L792.4,255.4 L788.6,255.5Z" fill="#e8201a" stroke="#e8201a" stroke-width="1.2" stroke-linejoin="round"/>
<path d="M1244.0,247.5 L1244.5,247.5 L1245.0,247.6 L1245.7,247.6 L1246.4,247.7 L1247.2,247.8 L1248.1,247.8 L1249.1,248.0 L1250.0,248.1 L1251.0,248.3 L1252.0,248.6 L1252.9,249.0 L1253.7,249.4 L1254.5,249.9 L1255.3,250.5 L1256.2,251.1 L1257.2,251.6 L1258.4,252.2 L1259.9,252.7 L1261.8,253.1 L1264.0,253.4 L1266.9,253.6 L1270.5,253.7 L1274.5,253.8 L1278.9,253.8 L1283.5,253.8 L1287.9,253.8 L1292.1,253.7 L1295.9,253.6 L1299.1,253.6 L1301.4,253.6" fill="none" stroke="#e8201a" stroke-width="8.2" stroke-linecap="round" stroke-linejoin="round"/>
<path d="M788.6,253.0 L792.4,253.0 L797.5,253.0 L803.4,253.1 L810.1,253.1 L817.3,253.1 L824.7,253.2 L832.1,253.3 L839.3,253.3 L846.0,253.5 L852.0,253.6 L857.4,253.8 L862.6,254.0 L867.5,254.2 L872.2,254.5 L876.8,254.7 L881.4,255.0 L885.9,255.3 L890.5,255.6 L895.2,255.9 L900.0,256.2 L904.7,256.5 L909.2,256.8 L913.4,257.1 L917.7,257.4 L922.1,257.7 L926.7,258.0 L931.6,258.3 L937.1,258.7 L943.2,259.0 L950.0,259.4 L957.9,259.8 L966.8,260.2 L976.5,260.7 L986.7,261.1 L997.2,261.6 L1007.7,262.1 L1018.0,262.5 L1027.8,263.0 L1036.9,263.4 L1045.0,263.8 L1052.1,264.1 L1058.5,264.5 L1064.3,264.7 L1069.6,265.0 L1074.7,265.3 L1079.6,265.5 L1084.4,265.8 L1089.3,266.1 L1094.5,266.4 L1100.0,266.8 L1105.7,267.2 L1111.2,267.6 L1116.7,268.0 L1122.2,268.5 L1127.8,269.0 L1133.6,269.4 L1139.6,269.9 L1146.0,270.4 L1152.8,271.0 L1160.0,271.5 L1168.2,272.1 L1177.5,272.7 L1187.6,273.4 L1198.2,274.1 L1208.8,274.8 L1219.0,275.5 L1228.7,276.1 L1237.3,276.7 L1244.5,277.1 L1250.0,277.5 L1250.0,285.5 L1244.5,285.1 L1237.3,284.7 L1228.7,284.1 L1219.0,283.5 L1208.8,282.8 L1198.2,282.1 L1187.6,281.4 L1177.5,280.7 L1168.2,280.1 L1160.0,279.5 L1152.8,279.0 L1146.0,278.5 L1139.6,278.0 L1133.6,277.5 L1127.8,277.1 L1122.2,276.6 L1116.7,276.2 L1111.2,275.8 L1105.7,275.4 L1100.0,275.0 L1094.5,274.6 L1089.3,274.3 L1084.4,274.0 L1079.6,273.7 L1074.7,273.5 L1069.6,273.2 L1064.3,272.9 L1058.5,272.7 L1052.1,272.3 L1045.0,272.0 L1037.1,271.6 L1028.6,271.2 L1019.5,270.8 L1010.0,270.4 L1000.2,270.0 L990.1,269.5 L980.0,269.1 L969.8,268.7 L959.8,268.2 L950.0,267.8 L940.2,267.4 L930.0,266.9 L919.7,266.4 L909.4,265.9 L899.0,265.4 L888.9,264.9 L879.0,264.5 L869.4,264.1 L860.4,263.8 L852.0,263.6 L844.0,263.5 L836.1,263.4 L828.4,263.5 L821.1,263.6 L814.2,263.7 L807.7,263.8 L801.9,264.0 L796.7,264.1 L792.2,264.2 L788.6,264.3Z" fill="#e8201a" stroke="#e8201a" stroke-width="1.2" stroke-linejoin="round"/>
<path d="M788.6,281.5 L804.5,281.5 L825.6,281.4 L850.9,281.4 L879.1,281.4 L909.1,281.3 L939.7,281.3 L969.8,281.2 L998.2,281.1 L1023.6,281.0 L1045.0,280.9 L1062.9,280.8 L1078.8,280.7 L1093.0,280.5 L1105.8,280.4 L1117.4,280.3 L1128.2,280.1 L1138.3,279.9 L1148.2,279.6 L1158.0,279.3 L1168.0,279.0 L1178.0,278.6 L1187.5,278.1 L1196.5,277.5 L1205.1,276.9 L1213.4,276.3 L1221.2,275.6 L1228.8,275.0 L1236.1,274.4 L1243.1,273.9 L1250.0,273.5 L1256.7,273.1 L1263.4,272.8 L1269.8,272.6 L1276.0,272.3 L1281.8,272.1 L1287.3,271.9 L1292.2,271.8 L1296.6,271.6 L1300.4,271.5 L1303.4,271.4 L1303.4,298.6 L1297.4,298.7 L1289.9,298.7 L1281.1,298.8 L1271.2,298.9 L1260.4,299.0 L1249.0,299.1 L1237.0,299.2 L1224.7,299.4 L1212.3,299.5 L1200.0,299.6 L1186.9,299.8 L1172.1,300.0 L1156.3,300.3 L1140.0,300.6 L1123.6,300.9 L1107.7,301.1 L1092.9,301.3 L1079.7,301.3 L1068.6,301.3 L1060.1,301.0 L1054.5,300.5 L1051.4,299.8 L1050.3,298.9 L1050.7,298.0 L1052.2,296.9 L1054.4,295.8 L1056.7,294.8 L1058.7,293.9 L1060.0,293.1 L1060.0,292.5 L1060.2,292.1 L1061.8,291.8 L1064.2,291.6 L1066.7,291.5 L1068.5,291.4 L1069.1,291.4 L1067.7,291.4 L1063.7,291.4 L1056.3,291.4 L1045.0,291.3 L1028.0,291.2 L1005.1,291.1 L977.7,291.1 L947.5,291.0 L915.9,290.9 L884.3,290.9 L854.3,290.8 L827.3,290.8 L804.9,290.7 L788.6,290.7Z" fill="#e8201a" stroke="#e8201a" stroke-width="1.2" stroke-linejoin="round"/>
<path d="M790.6,303.0 L800.4,302.8 L813.3,302.6 L828.7,302.3 L846.0,302.0 L864.4,301.7 L883.2,301.3 L901.9,301.0 L919.7,300.6 L936.0,300.3 L950.0,300.0 L962.5,299.7 L974.3,299.4 L985.6,299.2 L996.3,298.9 L1006.3,298.6 L1015.6,298.3 L1024.1,298.1 L1031.9,297.9 L1038.9,297.7 L1045.0,297.5 L1050.1,297.4 L1054.0,297.2 L1056.9,297.1 L1059.0,297.1 L1060.4,297.0 L1061.4,296.9 L1062.1,296.9 L1062.6,296.9 L1063.2,296.8 L1064.0,296.8" fill="none" stroke="#e8201a" stroke-width="7.0" stroke-linecap="round" stroke-linejoin="round"/>
<path d="M 1262,291.2 L 1301,291.2" stroke="#fff" stroke-width="0.8" opacity="0.7"/>
<path d="M788.6,319.0 L804.1,318.6 L824.3,318.1 L848.3,317.5 L875.2,316.8 L904.0,316.0 L933.8,315.3 L963.8,314.5 L992.9,313.7 L1020.3,312.9 L1045.0,312.2 L1068.3,311.5 L1091.7,310.7 L1115.1,309.9 L1138.0,309.1 L1160.2,308.4 L1181.4,307.6 L1201.3,306.8 L1219.5,306.2 L1235.9,305.5 L1250.0,305.0 L1261.7,304.5 L1271.2,304.1 L1278.8,303.7 L1284.8,303.4 L1289.5,303.1 L1293.2,302.9 L1296.1,302.7 L1298.6,302.5 L1300.9,302.3 L1303.4,302.2 L1303.4,317.2 L1300.9,317.4 L1298.6,317.6 L1296.1,317.8 L1293.2,318.0 L1289.5,318.3 L1284.8,318.6 L1278.8,319.0 L1271.2,319.4 L1261.7,319.8 L1250.0,320.2 L1235.9,320.7 L1219.5,321.3 L1201.3,321.9 L1181.4,322.5 L1160.2,323.2 L1138.0,323.9 L1115.1,324.5 L1091.7,325.2 L1068.3,325.7 L1045.0,326.2 L1020.3,326.6 L992.9,327.0 L963.8,327.3 L933.8,327.6 L904.0,327.9 L875.2,328.2 L848.3,328.4 L824.3,328.6 L804.1,328.8 L788.6,328.9Z" fill="#e8201a" stroke="#e8201a" stroke-width="1.2" stroke-linejoin="round"/>
<path d="M 1266,309.6 L 1301,309.6" stroke="#fff" stroke-width="0.8" opacity="0.6"/>
<path d="M788.6,378.4 L791.8,378.4 L795.1,378.3 L798.9,378.2 L803.2,378.2 L808.2,378.1 L814.3,378.0 L821.5,377.9 L830.0,377.8 L840.1,377.7 L852.0,377.6 L866.2,377.5 L882.9,377.4 L901.6,377.2 L921.7,377.1 L942.8,376.9 L964.3,376.8 L985.8,376.6 L1006.8,376.5 L1026.7,376.3 L1045.0,376.2 L1062.3,376.1 L1079.3,375.9 L1095.9,375.7 L1112.2,375.6 L1128.1,375.4 L1143.5,375.3 L1158.5,375.1 L1172.9,375.0 L1186.8,374.9 L1200.0,374.8 L1212.9,374.7 L1225.6,374.7 L1238.1,374.6 L1250.0,374.6 L1261.4,374.6 L1272.0,374.6 L1281.6,374.6 L1290.2,374.6 L1297.5,374.6 L1303.4,374.6 L1303.4,381.8 L1297.5,381.8 L1290.2,381.9 L1281.6,381.9 L1272.0,382.0 L1261.4,382.1 L1250.0,382.1 L1238.1,382.2 L1225.6,382.3 L1212.9,382.5 L1200.0,382.6 L1186.5,382.8 L1172.1,383.0 L1157.0,383.2 L1141.2,383.5 L1125.1,383.7 L1108.8,384.0 L1092.4,384.2 L1076.2,384.5 L1060.3,384.7 L1045.0,384.8 L1029.7,384.9 L1013.8,385.0 L997.7,385.0 L981.6,385.0 L965.8,385.0 L950.5,385.0 L936.1,385.0 L922.6,385.0 L910.5,385.0 L900.0,385.0 L891.3,385.0 L884.4,385.1 L879.0,385.1 L874.6,385.1 L870.9,385.2 L867.7,385.2 L864.5,385.3 L861.0,385.3 L857.0,385.4 L852.0,385.4 L846.0,385.5 L839.3,385.5 L832.1,385.6 L824.7,385.7 L817.3,385.7 L810.1,385.8 L803.4,385.9 L797.5,385.9 L792.4,386.0 L788.6,386.0Z" fill="#e8201a" stroke="#e8201a" stroke-width="1.2" stroke-linejoin="round"/>
<path d="M788.6,384.0 L792.4,384.1 L797.5,384.1 L803.4,384.2 L810.1,384.3 L817.3,384.3 L824.7,384.4 L832.1,384.6 L839.3,384.7 L846.0,384.8 L852.0,385.0 L857.4,385.2 L862.6,385.4 L867.5,385.7 L872.2,385.9 L876.8,386.2 L881.4,386.5 L885.9,386.8 L890.5,387.0 L895.2,387.3 L900.0,387.6 L904.7,387.9 L909.2,388.1 L913.4,388.4 L917.7,388.7 L922.1,388.9 L926.7,389.2 L931.6,389.5 L937.1,389.8 L943.2,390.1 L950.0,390.4 L957.6,390.7 L966.0,391.1 L975.0,391.5 L984.4,391.9 L994.2,392.3 L1004.3,392.7 L1014.6,393.1 L1024.8,393.5 L1035.0,393.8 L1045.0,394.2 L1054.7,394.6 L1064.1,394.9 L1073.4,395.3 L1082.7,395.6 L1092.2,396.0 L1101.9,396.3 L1112.2,396.6 L1123.0,396.9 L1134.6,397.2 L1147.0,397.4 L1161.1,397.6 L1177.3,397.7 L1194.8,397.8 L1213.2,397.9 L1231.6,398.0 L1249.5,398.1 L1266.3,398.1 L1281.3,398.1 L1293.8,398.2 L1303.4,398.2 L1303.4,404.8 L1293.8,404.8 L1281.3,404.9 L1266.3,404.9 L1249.5,405.0 L1231.6,405.1 L1213.2,405.1 L1194.8,405.1 L1177.3,405.1 L1161.1,405.1 L1147.0,405.0 L1134.6,404.9 L1123.0,404.7 L1112.2,404.5 L1101.9,404.3 L1092.2,404.1 L1082.7,403.8 L1073.4,403.6 L1064.1,403.3 L1054.7,402.9 L1045.0,402.6 L1035.0,402.2 L1024.8,401.8 L1014.6,401.3 L1004.3,400.9 L994.2,400.4 L984.4,399.9 L975.0,399.4 L966.0,398.9 L957.6,398.4 L950.0,398.0 L943.2,397.6 L937.1,397.2 L931.6,396.9 L926.7,396.6 L922.1,396.2 L917.7,395.9 L913.4,395.6 L909.2,395.3 L904.7,394.9 L900.0,394.6 L895.2,394.2 L890.5,393.9 L885.9,393.5 L881.4,393.1 L876.8,392.8 L872.2,392.4 L867.5,392.0 L862.6,391.7 L857.4,391.4 L852.0,391.2 L846.0,391.0 L839.3,390.8 L832.1,390.7 L824.7,390.6 L817.3,390.5 L810.1,390.4 L803.4,390.4 L797.5,390.3 L792.4,390.2 L788.6,390.2Z" fill="#e8201a" stroke="#e8201a" stroke-width="1.2" stroke-linejoin="round"/>
<path d="M788.6,412.8 L803.8,412.8 L823.4,412.8 L846.6,412.7 L872.6,412.7 L900.6,412.7 L930.0,412.7 L959.9,412.6 L989.5,412.6 L1018.1,412.5 L1045.0,412.4 L1071.9,412.3 L1100.7,412.1 L1130.5,412.0 L1160.6,411.8 L1190.2,411.6 L1218.5,411.4 L1244.8,411.2 L1268.2,411.0 L1288.0,410.9 L1303.4,410.8 L1303.4,423.6 L1288.0,423.5 L1268.2,423.5 L1244.8,423.4 L1218.5,423.3 L1190.2,423.2 L1160.6,423.0 L1130.5,422.9 L1100.7,422.8 L1071.9,422.7 L1045.0,422.6 L1018.1,422.5 L989.5,422.4 L959.9,422.3 L930.0,422.2 L900.6,422.0 L872.6,421.9 L846.6,421.8 L823.4,421.7 L803.8,421.7 L788.6,421.6Z" fill="#e8201a" stroke="#e8201a" stroke-width="1.2" stroke-linejoin="round"/>
<path d="M788.6,534.3 L792.8,534.2 L798.2,534.1 L804.5,534.0 L811.6,533.9 L819.2,533.8 L827.4,533.7 L835.8,533.5 L844.3,533.2 L852.8,532.9 L861.0,532.6 L869.2,532.2 L877.6,531.7 L886.3,531.2 L895.1,530.6 L904.1,530.0 L913.2,529.4 L922.3,528.7 L931.6,528.1 L940.8,527.4 L950.0,526.8 L959.0,526.2 L967.7,525.5 L976.2,524.8 L984.7,524.1 L993.4,523.5 L1002.4,522.8 L1011.9,522.1 L1022.1,521.5 L1033.0,520.9 L1045.0,520.4 L1058.3,519.9 L1073.0,519.5 L1088.7,519.0 L1105.2,518.6 L1122.0,518.2 L1138.8,517.9 L1155.4,517.6 L1171.3,517.3 L1186.3,517.0 L1200.0,516.8 L1212.9,516.6 L1225.6,516.5 L1238.1,516.4 L1250.0,516.4 L1261.4,516.3 L1272.0,516.3 L1281.6,516.3 L1290.2,516.3 L1297.5,516.3 L1303.4,516.3 L1303.4,523.6 L1297.5,523.6 L1290.2,523.7 L1281.6,523.7 L1272.0,523.7 L1261.4,523.8 L1250.0,523.8 L1238.1,523.9 L1225.6,524.0 L1212.9,524.2 L1200.0,524.4 L1186.3,524.6 L1171.3,524.9 L1155.4,525.2 L1138.8,525.5 L1122.0,525.9 L1105.2,526.2 L1088.7,526.6 L1073.0,527.1 L1058.3,527.5 L1045.0,528.0 L1032.9,528.5 L1021.4,529.2 L1010.7,529.8 L1000.5,530.5 L990.9,531.3 L981.9,532.0 L973.3,532.7 L965.2,533.3 L957.4,533.9 L950.0,534.4 L943.1,534.8 L936.9,535.2 L931.3,535.5 L926.2,535.8 L921.5,536.0 L917.0,536.2 L912.8,536.4 L908.6,536.6 L904.4,536.8 L900.0,537.0 L895.8,537.2 L892.0,537.4 L888.5,537.6 L885.2,537.8 L881.9,537.9 L878.5,538.1 L874.8,538.3 L870.8,538.4 L866.2,538.6 L861.0,538.8 L854.8,539.0 L847.5,539.2 L839.5,539.5 L831.0,539.8 L822.4,540.0 L814.0,540.3 L806.1,540.5 L799.0,540.7 L793.1,540.9 L788.6,541.0Z" fill="#e8201a" stroke="#e8201a" stroke-width="1.2" stroke-linejoin="round"/>
<path d="M788.6,538.0 L793.1,538.0 L799.0,538.1 L806.1,538.1 L814.0,538.1 L822.4,538.2 L831.0,538.2 L839.5,538.3 L847.5,538.3 L854.8,538.4 L861.0,538.4 L865.8,538.4 L869.2,538.5 L871.8,538.5 L873.9,538.5 L876.0,538.5 L878.4,538.6 L881.6,538.6 L886.0,538.6 L892.0,538.6 L900.0,538.6 L910.2,538.6 L922.1,538.5 L935.4,538.5 L949.9,538.4 L965.2,538.4 L981.2,538.3 L997.4,538.3 L1013.7,538.3 L1029.6,538.3 L1045.0,538.3 L1060.3,538.3 L1076.2,538.4 L1092.4,538.5 L1108.8,538.6 L1125.1,538.7 L1141.2,538.8 L1157.0,539.0 L1172.1,539.1 L1186.5,539.2 L1200.0,539.4 L1212.9,539.6 L1225.6,539.8 L1238.1,540.0 L1250.0,540.3 L1261.4,540.5 L1272.0,540.8 L1281.6,541.0 L1290.2,541.2 L1297.5,541.4 L1303.4,541.5 L1303.4,549.1 L1297.5,549.0 L1290.2,548.9 L1281.6,548.7 L1272.0,548.6 L1261.4,548.4 L1250.0,548.2 L1238.1,548.0 L1225.6,547.9 L1212.9,547.7 L1200.0,547.6 L1186.7,547.5 L1172.8,547.4 L1158.2,547.4 L1143.1,547.3 L1127.5,547.3 L1111.6,547.2 L1095.3,547.2 L1078.7,547.1 L1061.9,547.0 L1045.0,546.9 L1027.3,546.8 L1008.3,546.6 L988.4,546.4 L968.1,546.3 L947.8,546.1 L928.0,545.9 L908.9,545.7 L891.1,545.5 L875.0,545.3 L861.0,545.2 L848.9,545.1 L838.2,544.9 L828.8,544.8 L820.5,544.7 L813.3,544.6 L807.0,544.5 L801.5,544.4 L796.7,544.3 L792.4,544.3 L788.6,544.2Z" fill="#e8201a" stroke="#e8201a" stroke-width="1.2" stroke-linejoin="round"/>
<path d="M788.6,586.8 L804.3,587.1 L825.1,587.6 L849.9,588.1 L877.6,588.6 L907.1,589.2 L937.4,589.9 L967.5,590.5 L996.1,591.2 L1022.3,591.8 L1045.0,592.4 L1064.8,593.0 L1083.3,593.6 L1100.6,594.3 L1116.8,594.9 L1132.1,595.5 L1146.6,596.2 L1160.5,596.7 L1173.9,597.3 L1187.0,597.8 L1200.0,598.2 L1212.9,598.6 L1225.6,598.8 L1238.1,599.1 L1250.0,599.3 L1261.4,599.5 L1272.0,599.6 L1281.6,599.7 L1290.2,599.8 L1297.5,599.9 L1303.4,600.0 L1303.4,618.6 L1297.5,618.5 L1290.2,618.3 L1281.6,618.2 L1272.0,618.0 L1261.4,617.8 L1250.0,617.5 L1238.1,617.2 L1225.6,616.9 L1212.9,616.5 L1200.0,616.0 L1187.0,615.4 L1173.9,614.8 L1160.5,614.0 L1146.6,613.2 L1132.1,612.3 L1116.8,611.5 L1100.6,610.6 L1083.3,609.8 L1064.8,609.1 L1045.0,608.4 L1022.3,607.8 L996.1,607.2 L967.5,606.6 L937.4,606.1 L907.1,605.6 L877.6,605.1 L849.9,604.7 L825.1,604.3 L804.3,604.0 L788.6,603.7Z" fill="#e8201a" stroke="#e8201a" stroke-width="1.2" stroke-linejoin="round"/>
<path d="M 1272,611.4 L 1301,611.4" stroke="#fff" stroke-width="0.9" opacity="0.7"/>
<path d="M790.6,619.7 L795.4,619.7 L801.5,619.8 L808.8,619.8 L817.0,619.9 L825.7,620.0 L834.9,620.0 L844.1,620.1 L853.3,620.3 L862.0,620.4 L870.0,620.6 L877.6,620.8 L885.3,621.1 L892.9,621.4 L900.4,621.7 L907.9,622.0 L915.3,622.3 L922.5,622.7 L929.5,623.0 L936.4,623.3 L943.0,623.6 L949.6,623.9 L956.3,624.2 L963.1,624.4 L969.7,624.7 L976.1,625.0 L982.1,625.2 L987.6,625.5 L992.5,625.7 L996.7,625.9 L1000.0,626.0" fill="none" stroke="#e8201a" stroke-width="6.8" stroke-linecap="round" stroke-linejoin="round"/>
<path d="M788.6,626.6 L798.5,626.6 L812.1,626.6 L828.4,626.6 L846.6,626.6 L865.8,626.6 L884.9,626.6 L903.2,626.6 L919.5,626.4 L933.1,626.3 L943.0,626.0 L948.8,625.6 L951.3,625.1 L951.2,624.6 L949.3,623.9 L946.3,623.2 L943.1,622.6 L940.4,621.9 L939.0,621.4 L939.7,620.9 L943.1,620.6 L949.1,620.4 L956.6,620.3 L965.5,620.2 L975.5,620.2 L986.4,620.3 L997.8,620.4 L1009.7,620.5 L1021.6,620.7 L1033.5,620.8 L1045.0,621.0 L1056.4,621.2 L1068.1,621.5 L1080.0,621.8 L1092.1,622.2 L1104.4,622.6 L1116.9,623.0 L1129.5,623.3 L1142.3,623.6 L1155.1,623.9 L1168.0,624.0 L1181.6,624.1 L1196.5,624.0 L1212.0,624.0 L1227.8,623.8 L1243.4,623.7 L1258.4,623.5 L1272.3,623.4 L1284.8,623.2 L1295.3,623.1 L1303.4,623.0 L1303.4,655.6 L1297.2,655.6 L1289.2,655.7 L1279.6,655.7 L1268.9,655.8 L1257.4,655.9 L1245.5,655.9 L1233.4,656.0 L1221.6,656.1 L1210.3,656.1 L1200.0,656.2 L1189.9,656.3 L1179.4,656.5 L1168.7,656.6 L1158.0,656.9 L1147.6,657.0 L1137.7,657.2 L1128.6,657.2 L1120.4,657.2 L1113.5,657.0 L1108.1,656.6 L1104.7,656.0 L1103.2,655.2 L1103.3,654.2 L1104.5,653.1 L1106.2,651.9 L1108.2,650.7 L1109.8,649.5 L1110.6,648.5 L1110.1,647.6 L1108.0,647.0 L1105.1,646.6 L1102.5,646.3 L1099.8,646.1 L1096.6,646.0 L1092.5,646.0 L1087.1,646.1 L1080.1,646.2 L1071.0,646.3 L1059.4,646.3 L1045.0,646.3 L1026.0,646.3 L1002.0,646.3 L974.2,646.2 L944.1,646.2 L912.9,646.3 L882.0,646.3 L852.8,646.3 L826.6,646.3 L804.7,646.3 L788.6,646.3Z" fill="#e8201a" stroke="#e8201a" stroke-width="1.2" stroke-linejoin="round"/>
<path d="M 1236,647.6 L 1301,647.6" stroke="#fff" stroke-width="0.9" opacity="0.7"/>
<path d="M788.6,659.0 L791.8,659.0 L795.7,658.9 L800.1,658.8 L805.2,658.8 L810.8,658.7 L816.9,658.6 L823.5,658.5 L830.6,658.4 L838.1,658.2 L846.0,658.0 L854.6,657.8 L864.0,657.5 L874.1,657.2 L884.7,656.9 L895.6,656.5 L906.8,656.2 L918.0,655.8 L929.0,655.5 L939.8,655.1 L950.0,654.8 L960.0,654.5 L970.0,654.2 L980.0,653.9 L990.0,653.6 L999.8,653.3 L1009.4,653.0 L1018.8,652.7 L1027.9,652.4 L1036.7,652.0 L1045.0,651.7 L1053.1,651.3 L1061.3,650.9 L1069.3,650.5 L1077.0,650.1 L1084.4,649.7 L1091.4,649.2 L1097.7,648.9 L1103.3,648.5 L1108.1,648.2 L1112.0,648.0 L1112.0,655.2 L1108.1,655.4 L1103.3,655.7 L1097.7,656.0 L1091.4,656.4 L1084.4,656.8 L1077.0,657.2 L1069.3,657.6 L1061.3,658.0 L1053.1,658.4 L1045.0,658.8 L1036.4,659.2 L1027.1,659.5 L1017.1,659.9 L1006.9,660.3 L996.4,660.6 L986.1,661.0 L976.1,661.4 L966.6,661.7 L957.8,662.1 L950.0,662.4 L943.2,662.7 L937.2,663.0 L931.8,663.3 L927.0,663.6 L922.4,663.9 L918.1,664.2 L913.9,664.5 L909.5,664.8 L905.0,665.1 L900.0,665.4 L894.8,665.7 L889.5,666.1 L884.2,666.4 L878.9,666.8 L873.5,667.1 L868.0,667.4 L862.6,667.8 L857.1,668.1 L851.6,668.4 L846.0,668.6 L840.1,668.8 L833.8,669.0 L827.2,669.2 L820.5,669.4 L813.9,669.5 L807.6,669.6 L801.7,669.7 L796.5,669.8 L792.0,669.9 L788.6,670.0Z" fill="#e8201a" stroke="#e8201a" stroke-width="1.2" stroke-linejoin="round"/>
<path d="M788.6,667.0 L792.0,667.1 L796.5,667.2 L801.7,667.3 L807.6,667.5 L813.9,667.6 L820.5,667.7 L827.2,667.9 L833.8,668.0 L840.1,668.1 L846.0,668.2 L851.6,668.3 L857.1,668.3 L862.6,668.3 L868.0,668.3 L873.5,668.3 L878.9,668.3 L884.2,668.3 L889.5,668.3 L894.8,668.2 L900.0,668.2 L905.0,668.2 L909.5,668.1 L913.9,668.1 L918.1,668.0 L922.4,667.9 L927.0,667.9 L931.8,667.8 L937.2,667.7 L943.2,667.7 L950.0,667.6 L957.4,667.5 L965.2,667.5 L973.3,667.4 L981.9,667.3 L990.9,667.3 L1000.5,667.2 L1010.7,667.1 L1021.4,667.1 L1032.9,667.0 L1045.0,667.0 L1058.3,667.0 L1073.0,667.0 L1088.7,667.0 L1105.2,667.0 L1122.0,667.0 L1138.8,667.0 L1155.4,667.0 L1171.3,667.0 L1186.3,667.0 L1200.0,667.0 L1212.9,667.0 L1225.6,667.0 L1238.1,667.0 L1250.0,667.0 L1261.4,667.0 L1272.0,667.0 L1281.6,667.0 L1290.2,667.0 L1297.5,667.0 L1303.4,667.0 L1303.4,680.4 L1297.5,680.3 L1290.2,680.1 L1281.6,680.0 L1272.0,679.8 L1261.4,679.6 L1250.0,679.4 L1238.1,679.2 L1225.6,679.0 L1212.9,678.8 L1200.0,678.6 L1186.8,678.4 L1173.0,678.2 L1158.7,678.0 L1143.8,677.8 L1128.5,677.6 L1112.6,677.5 L1096.4,677.3 L1079.6,677.3 L1062.5,677.3 L1045.0,677.4 L1026.2,677.6 L1005.8,678.0 L984.1,678.4 L961.8,678.9 L939.4,679.4 L917.5,680.0 L896.7,680.5 L877.4,681.0 L860.4,681.3 L846.0,681.6 L834.3,681.7 L824.5,681.8 L816.6,681.8 L810.1,681.8 L804.9,681.7 L800.6,681.6 L797.1,681.4 L794.1,681.3 L791.4,681.2 L788.6,681.2Z" fill="#e8201a" stroke="#e8201a" stroke-width="1.2" stroke-linejoin="round"/>
<path d="M790.6,751.2 L800.4,751.3 L813.3,751.5 L828.7,751.7 L846.0,751.9 L864.4,752.2 L883.2,752.5 L901.9,752.7 L919.7,753.0 L936.0,753.3 L950.0,753.6 L962.2,753.9 L973.4,754.2 L983.8,754.6 L993.5,754.9 L1002.6,755.3 L1011.3,755.6 L1019.8,756.0 L1028.1,756.3 L1036.5,756.7 L1045.0,757.0 L1053.5,757.3 L1061.7,757.7 L1069.7,758.0 L1077.5,758.3 L1085.1,758.7 L1092.7,759.0 L1100.2,759.3 L1107.7,759.6 L1115.3,759.8 L1123.0,760.0 L1131.1,760.2 L1139.7,760.3 L1148.6,760.4 L1157.6,760.4 L1166.4,760.5 L1174.8,760.5 L1182.6,760.5 L1189.5,760.6 L1195.4,760.6 L1200.0,760.6" fill="none" stroke="#e8201a" stroke-width="7.5" stroke-linecap="round" stroke-linejoin="round"/>
<path d="M790.6,766.5 L806.4,766.5 L827.6,766.5 L852.9,766.5 L881.2,766.5 L911.2,766.5 L941.8,766.5 L971.6,766.5 L999.6,766.5 L1024.5,766.6 L1045.0,766.6 L1062.0,766.6 L1077.2,766.7 L1090.8,766.8 L1102.8,766.8 L1113.4,766.9 L1122.7,767.0 L1130.9,767.0 L1138.1,767.1 L1144.4,767.2 L1150.0,767.2" fill="none" stroke="#e8201a" stroke-width="7.6" stroke-linecap="round" stroke-linejoin="round"/>
<path d="M790.6,792.3 L800.4,792.1 L813.3,791.9 L828.7,791.6 L846.0,791.2 L864.4,790.9 L883.2,790.5 L901.9,790.1 L919.7,789.7 L936.0,789.4 L950.0,789.0 L962.2,788.7 L973.4,788.3 L983.9,788.0 L993.6,787.7 L1002.8,787.4 L1011.5,787.0 L1020.0,786.7 L1028.3,786.3 L1036.6,785.9 L1045.0,785.4 L1053.3,784.9 L1061.1,784.4 L1068.6,783.8 L1075.9,783.2 L1083.0,782.6 L1090.1,782.0 L1097.2,781.4 L1104.6,780.8 L1112.1,780.2 L1120.0,779.6 L1128.4,779.0 L1137.2,778.4 L1146.3,777.8 L1155.6,777.1 L1164.9,776.5 L1174.1,775.9 L1183.0,775.4 L1191.6,774.8 L1199.6,774.4 L1207.0,774.0 L1213.7,773.7 L1220.0,773.5 L1225.8,773.3 L1231.2,773.2 L1236.4,773.1 L1241.3,773.0 L1246.0,772.9 L1250.7,772.9 L1255.3,772.9 L1260.0,772.8 L1264.8,772.7 L1269.7,772.7 L1274.6,772.7 L1279.4,772.6 L1284.0,772.6 L1288.4,772.6 L1292.4,772.6 L1296.0,772.6 L1299.0,772.6 L1301.4,772.6" fill="none" stroke="#e8201a" stroke-width="7.6" stroke-linecap="round" stroke-linejoin="round"/>
<path d="M1123.0,756.0 L1127.9,756.0 L1134.2,756.0 L1141.6,756.0 L1150.0,755.9 L1159.0,755.9 L1168.5,755.9 L1178.2,755.9 L1188.1,755.9 L1197.7,755.8 L1207.0,755.8 L1216.6,755.8 L1227.0,755.7 L1238.0,755.7 L1249.3,755.6 L1260.5,755.6 L1271.2,755.5 L1281.2,755.5 L1290.1,755.5 L1297.6,755.4 L1303.4,755.4 L1303.4,772.0 L1297.6,772.0 L1290.1,771.9 L1281.2,771.8 L1271.2,771.7 L1260.5,771.7 L1249.3,771.6 L1238.0,771.5 L1227.0,771.4 L1216.6,771.3 L1207.0,771.2 L1197.7,771.1 L1188.1,771.0 L1178.2,770.9 L1168.5,770.8 L1159.0,770.8 L1150.0,770.7 L1141.6,770.6 L1134.2,770.5 L1127.9,770.4 L1123.0,770.4Z" fill="#e8201a" stroke="#e8201a" stroke-width="1.2" stroke-linejoin="round"/>
<path d="M 1266,762.6 L 1301,762.6" stroke="#fff" stroke-width="0.9" opacity="0.7"/>
<path d="M788.6,854.5 L795.1,854.5 L803.2,854.5 L812.8,854.5 L823.5,854.6 L835.2,854.6 L847.7,854.6 L860.6,854.6 L873.8,854.7 L887.0,854.7 L900.0,854.8 L913.0,854.9 L926.2,854.9 L939.8,855.0 L953.7,855.0 L968.0,855.1 L982.6,855.2 L997.6,855.3 L1013.0,855.5 L1028.8,855.7 L1045.0,856.0 L1062.3,856.4 L1081.1,856.9 L1100.8,857.5 L1121.1,858.1 L1141.4,858.8 L1161.4,859.4 L1180.6,860.1 L1198.6,860.7 L1214.9,861.2 L1229.0,861.6 L1241.2,861.9 L1252.1,862.2 L1261.7,862.4 L1270.2,862.6 L1277.7,862.8 L1284.3,862.9 L1290.0,863.0 L1295.0,863.0 L1299.5,863.1 L1303.4,863.2 L1303.4,870.2 L1299.5,870.2 L1295.0,870.2 L1290.0,870.2 L1284.3,870.2 L1277.7,870.2 L1270.2,870.2 L1261.7,870.1 L1252.1,869.9 L1241.2,869.7 L1229.0,869.4 L1214.9,869.0 L1198.6,868.4 L1180.6,867.8 L1161.4,867.0 L1141.4,866.3 L1121.1,865.5 L1100.8,864.8 L1081.1,864.1 L1062.3,863.5 L1045.0,863.0 L1028.8,862.6 L1013.0,862.3 L997.6,862.0 L982.6,861.8 L968.0,861.7 L953.7,861.5 L939.8,861.4 L926.2,861.3 L913.0,861.1 L900.0,861.0 L887.0,860.9 L873.8,860.7 L860.6,860.6 L847.7,860.5 L835.2,860.4 L823.5,860.3 L812.8,860.2 L803.2,860.1 L795.1,860.1 L788.6,860.0Z" fill="#e8201a" stroke="#e8201a" stroke-width="1.2" stroke-linejoin="round"/>
<path d="M788.6,858.0 L795.1,858.1 L803.2,858.1 L812.8,858.2 L823.5,858.2 L835.2,858.3 L847.7,858.4 L860.6,858.5 L873.8,858.7 L887.0,858.8 L900.0,859.0 L913.3,859.2 L927.5,859.5 L942.3,859.7 L957.5,860.0 L972.9,860.3 L988.3,860.6 L1003.4,861.0 L1018.0,861.3 L1032.0,861.7 L1045.0,862.0 L1057.2,862.4 L1069.0,862.7 L1080.3,863.2 L1091.1,863.6 L1101.6,864.0 L1111.8,864.4 L1121.7,864.8 L1131.3,865.2 L1140.7,865.6 L1150.0,866.0 L1159.0,866.3 L1167.5,866.7 L1175.8,866.9 L1183.7,867.2 L1191.4,867.5 L1199.0,867.8 L1206.5,868.1 L1213.9,868.4 L1221.4,868.8 L1229.0,869.2 L1237.0,869.7 L1245.4,870.3 L1254.0,870.9 L1262.7,871.5 L1271.1,872.2 L1279.2,872.8 L1286.7,873.5 L1293.4,874.0 L1299.0,874.5 L1303.4,874.8 L1303.4,881.8 L1299.0,881.5 L1293.4,881.1 L1286.7,880.7 L1279.2,880.2 L1271.1,879.6 L1262.7,879.1 L1254.0,878.5 L1245.4,878.0 L1237.0,877.5 L1229.0,877.0 L1221.4,876.6 L1213.9,876.2 L1206.5,875.8 L1199.0,875.5 L1191.4,875.2 L1183.7,874.8 L1175.8,874.5 L1167.5,874.1 L1159.0,873.8 L1150.0,873.4 L1140.7,873.0 L1131.3,872.6 L1121.7,872.2 L1111.8,871.8 L1101.6,871.4 L1091.1,871.0 L1080.3,870.6 L1069.0,870.1 L1057.2,869.7 L1045.0,869.3 L1032.0,868.9 L1018.0,868.4 L1003.4,867.9 L988.3,867.5 L972.9,867.0 L957.5,866.5 L942.3,866.1 L927.5,865.7 L913.3,865.3 L900.0,865.0 L887.0,864.7 L873.8,864.5 L860.6,864.2 L847.7,864.0 L835.2,863.8 L823.5,863.7 L812.8,863.5 L803.2,863.4 L795.1,863.3 L788.6,863.2Z" fill="#e8201a" stroke="#e8201a" stroke-width="1.2" stroke-linejoin="round"/>
<path d="M788.6,890.8 L803.8,890.7 L823.4,890.7 L846.6,890.6 L872.6,890.5 L900.6,890.4 L930.0,890.2 L959.9,890.1 L989.5,890.0 L1018.1,889.9 L1045.0,889.8 L1071.9,889.7 L1100.7,889.6 L1130.5,889.5 L1160.6,889.4 L1190.2,889.2 L1218.5,889.1 L1244.8,889.0 L1268.2,888.9 L1288.0,888.9 L1303.4,888.8 L1303.4,902.8 L1288.0,902.7 L1268.2,902.5 L1244.8,902.3 L1218.5,902.1 L1190.2,901.9 L1160.6,901.6 L1130.5,901.4 L1100.7,901.2 L1071.9,901.0 L1045.0,900.9 L1018.1,900.8 L989.5,900.7 L959.9,900.7 L930.0,900.7 L900.6,900.7 L872.6,900.7 L846.6,900.7 L823.4,900.7 L803.8,900.7 L788.6,900.7Z" fill="#e8201a" stroke="#e8201a" stroke-width="1.2" stroke-linejoin="round"/>
</g>
<defs>
<radialGradient id="gb" cx="0.46" cy="0.36" r="0.7" fx="0.44" fy="0.24">
 <stop offset="0" stop-color="#e8e8ff"/><stop offset="0.1" stop-color="#b0b0ff"/><stop offset="0.26" stop-color="#3030ff"/><stop offset="0.45" stop-color="#0404ff"/><stop offset="1" stop-color="#0000e6"/>
</radialGradient>
<radialGradient id="gr" cx="0.46" cy="0.36" r="0.7" fx="0.44" fy="0.24">
 <stop offset="0" stop-color="#ffe8e8"/><stop offset="0.1" stop-color="#ffb0b0"/><stop offset="0.26" stop-color="#ff3030"/><stop offset="0.45" stop-color="#ff0404"/><stop offset="1" stop-color="#f00000"/>
</radialGradient>
<radialGradient id="gp" cx="0.5" cy="0.5" r="0.5">
 <stop offset="0" stop-color="#ffffff"/><stop offset="0.3" stop-color="#f4d4f0"/><stop offset="0.62" stop-color="#c080b8"/><stop offset="1" stop-color="#a8609c"/>
</radialGradient>
<radialGradient id="gg" cx="0.5" cy="0.5" r="0.5">
 <stop offset="0" stop-color="#e8ff90"/><stop offset="0.35" stop-color="#c8ec40"/><stop offset="0.7" stop-color="#98c81c"/><stop offset="1" stop-color="#86b414"/>
</radialGradient>
<clipPath id="cla"><rect x="131" y="36" width="553" height="399"/></clipPath>
<clipPath id="cld"><rect x="130" y="508.2" width="552" height="398"/></clipPath>
</defs>
<g clip-path="url(#cla)">
<path d="M131.2,77.4 L141.8,75.6 L152.5,71.0 L163.1,62.6 L173.7,52.0 L184.3,40.4 L195.0,28.0M131.2,128.0 L141.8,127.0 L152.5,121.6 L163.1,116.0 L173.7,107.0 L184.3,96.0 L195.0,83.6 L205.6,72.0 L216.2,60.4 L226.8,50.6 L237.5,46.0 L248.1,48.0 L258.7,57.6 L269.3,78.0 L280.0,108.6M131.2,128.0 L141.8,127.0 L152.5,124.4 L163.1,119.0 L173.7,111.0 L184.3,100.0 L195.0,87.0 L205.6,72.0 L216.2,60.4 L226.8,53.6 L237.5,50.0 L248.1,53.0 L258.7,63.6 L269.3,84.6 L280.0,115.4M280.0,108.6 L290.6,146.6 L301.2,187.4M280.0,115.4 L290.6,152.4 L301.2,191.6M301.2,187.4 L311.8,223.6M301.2,191.6 L311.8,226.8M311.8,226.2 L322.5,236.6 L333.1,235.6M280.0,37.0 L290.6,58.6 L301.2,83.0 L311.8,107.0 L322.5,126.6 L333.1,134.0M333.1,134.0 L345.5,123.6 L357.8,99.6 L370.2,71.4 L382.6,43.4 L394.9,16.0M301.2,12.0 L311.8,39.0 L322.5,62.0 L333.1,72.0M301.2,12.0 L311.8,45.0 L322.5,65.6 L333.1,72.0M333.1,72.0 L345.5,59.6 L357.8,37.0 L370.2,12.0M333.1,72.0 L345.5,63.6 L357.8,37.0 L370.2,12.0M345.5,246.0 L357.8,213.6M345.5,248.0 L357.8,217.6M357.8,213.6 L370.2,167.6 L382.6,119.4 L394.9,73.6M357.8,217.6 L370.2,173.0 L382.6,125.6 L394.9,81.0M394.9,73.6 L407.3,43.0 L419.6,10.0M394.9,81.0 L407.3,43.0 L419.6,10.0M333.1,235.6 L345.5,234.0 L357.8,215.6M131.2,278.5 L141.8,277.9 L152.5,276.5 L163.1,274.5 L173.7,271.9 L184.3,268.5 L195.0,264.9 L205.6,260.9 L216.2,256.9 L226.8,252.5 L237.5,248.9 L248.1,245.5 L258.7,243.3 L269.3,242.1 L280.0,242.1 L290.6,243.5 L301.2,244.9 L311.8,244.5 L322.5,239.3 L333.1,236.2M131.2,278.7 L141.8,278.1 L152.5,276.7 L163.1,274.7 L173.7,272.1 L184.3,268.7 L195.0,265.1 L205.6,261.1 L216.2,257.1 L226.8,252.7 L237.5,249.1 L248.1,245.7 L258.7,243.5 L269.3,242.3 L280.0,242.3 L290.6,243.7 L301.2,245.1 L311.8,244.7 L322.5,239.5 L333.1,235.0M311.8,245.0 L322.5,254.0 L333.1,264.0M333.1,264.0 L345.5,251.0 L357.8,248.0M131.2,386.4 L141.8,385.8 L152.5,384.6 L163.1,383.9 L173.7,383.6 L184.3,383.3 L195.0,382.7 L205.6,381.8 L216.2,379.9 L226.8,377.4 L237.5,373.6 L248.1,368.3 L258.7,361.4 L269.3,350.1 L280.0,333.6 L290.6,312.0 L301.2,290.6 L311.8,277.0 L322.5,278.0 L333.1,286.0M131.2,386.4 L141.8,388.3 L152.5,390.8 L163.1,392.7 L173.7,395.0 L184.3,397.1 L195.0,398.7 L205.6,399.6 L216.2,399.3 L226.8,397.7 L237.5,394.6 L248.1,388.3 L258.7,378.9 L269.3,362.6 L280.0,340.7 L290.6,317.0 L301.2,294.6 L311.8,279.6 L322.5,279.5 L333.1,290.0M131.2,432.4 L141.8,431.6 L152.5,430.9 L163.1,429.0 L173.7,426.5 L184.3,423.4 L195.0,419.6 L205.6,415.3 L216.2,410.9 L226.8,402.1 L237.5,397.7 L248.1,395.2 L258.7,390.8 L269.3,384.6 L280.0,370.8 L290.6,358.2 L301.2,345.7 L311.8,329.4 L322.5,312.5M131.2,432.4 L141.8,431.6 L152.5,430.9 L163.1,429.0 L173.7,426.5 L184.3,423.4 L195.0,419.6 L205.6,415.3 L216.2,410.9 L226.8,406.5 L237.5,402.7 L248.1,400.2 L258.7,395.8 L269.3,384.6 L280.0,370.8 L290.6,358.2 L301.2,352.6 L311.8,329.4 L322.5,312.5M237.5,433.4 L280.0,382.7M248.1,430.3 L290.6,370.8M258.7,420.3 L301.2,365.8M269.3,424.0 L311.8,366.4M280.0,412.8 L322.5,346.9M290.6,432.2 L322.5,399.0M301.2,419.0 L333.1,395.8M311.8,415.9 L333.1,395.8M248.1,421.5 L280.0,399.6M322.5,421.5 L333.1,427.8M280.0,402.7 L311.8,401.5M311.8,343.2 L333.1,338.2M301.2,345.7 L322.5,336.3M333.1,235.7 L345.5,240.0 L357.8,246.3 L370.2,254.5 L382.6,263.9 L394.9,276.4 L407.3,289.6 L419.6,301.2 L432.0,310.6 L444.4,316.5 L456.7,319.4 L469.1,319.9 L481.5,318.8 L493.8,316.5 L506.2,313.7 L518.5,310.6 L530.9,307.5 L543.3,305.2 L555.6,303.7M333.1,235.7 L345.5,240.0 L357.8,250.7 L370.2,258.8 L382.6,268.2 L394.9,279.5 L407.3,293.9 L419.6,310.2 L432.0,326.8 L444.4,338.4 L456.7,342.8 L469.1,342.8 L481.5,339.7 L493.8,335.9 L506.2,331.3 L518.5,326.3 L530.9,321.8 L543.3,318.4 L555.6,315.9M345.5,276.4 L357.8,273.3 L370.2,279.5 L382.6,288.9 L394.9,299.0 L407.3,310.2 L419.6,322.8M345.5,276.4 L357.8,278.9 L370.2,286.4 L382.6,296.4 L394.9,306.5 L407.3,319.0 L419.6,331.5M432.0,338.2 L444.4,354.1 L456.7,373.9 L469.1,394.6 L481.5,414.6 L493.8,433.4M432.0,346.3 L444.4,363.9 L456.7,383.3 L469.1,402.7 L481.5,421.8 L493.8,440.3M333.1,287.7 L345.5,276.4M333.1,287.7 L345.5,310.9 L357.8,340.1 L370.2,382.7 L382.6,430.3 L394.9,470.4M357.8,341.9 L370.2,385.2 L382.6,432.8M333.1,338.2 L345.5,336.3 L357.8,340.1 L370.2,355.7 L382.6,364.5 L394.9,370.8 L407.3,377.0 L419.6,385.4 L432.0,397.3 L444.4,411.8 L456.7,427.2 L469.1,444.1M333.1,338.2 L345.5,349.5 L357.8,372.0 L370.2,374.5 L382.6,390.4 L394.9,391.7 L407.3,394.2 L419.6,399.8 L432.0,409.0 L444.4,422.2 L456.7,436.6M333.1,395.8 L345.5,399.6 L357.8,402.1 L370.2,412.1 L382.6,414.0 L394.9,425.9 L407.3,433.4 L419.6,442.8M333.1,427.8 L345.5,417.8 L357.8,407.7 L370.2,397.7M333.1,427.8 L345.5,424.0 L357.8,429.0 L370.2,432.8M333.1,395.8 L345.5,432.8M568.0,303.6 L574.0,303.6 L580.1,304.0 L586.1,304.4 L592.2,304.8 L598.2,305.2 L604.3,305.5 L610.3,305.6 L616.4,305.6 L622.4,305.2 L628.5,304.0 L634.5,301.9 L640.6,299.1 L646.6,295.0 L652.7,290.5 L658.7,285.5 L664.8,281.0 L670.8,277.7 L676.9,276.1 L682.9,275.4M568.0,315.1 L574.0,315.1 L580.1,315.5 L586.1,316.5 L592.2,317.6 L598.2,319.0 L604.3,320.4 L610.3,322.2 L616.4,323.9 L622.4,325.5 L628.5,326.6 L634.5,326.9 L640.6,325.9 L646.6,321.1 L652.7,314.8 L658.7,306.9 L664.8,296.6 L670.8,288.0 L676.9,282.7 L682.9,280.2M616.4,445.7 L622.4,432.6 L628.5,420.8 L634.5,408.6 L640.6,397.5 L646.6,388.3 L652.7,382.0 L658.7,379.0 L664.8,378.6 L670.8,380.4 L676.9,382.7 L682.9,385.5M628.5,440.2 L634.5,432.6 L640.6,426.6 L646.6,419.4 L652.7,412.2 L658.7,405.6 L664.8,400.0 L670.8,394.8 L676.9,390.3 L682.9,386.9M664.8,435.3 L670.8,433.3 L676.9,431.9 L682.9,431.2M634.5,31.5 L640.6,40.7 L646.6,50.5 L652.7,70.9 L658.7,89.3 L664.8,105.0 L670.8,117.5 L676.9,124.7 L682.9,128.0M634.5,31.5 L640.6,40.7 L646.6,58.4 L652.7,76.1 L658.7,93.2 L664.8,108.3 L670.8,118.8 L676.9,124.7 L682.9,128.0M646.6,29.5 L652.7,40.7 L658.7,51.2 L664.8,61.7 L670.8,69.6 L676.9,75.5 L682.9,77.5M646.6,29.5 L652.7,45.3 L658.7,56.5 L664.8,65.0 L670.8,72.2 L676.9,75.5 L682.9,77.5" fill="none" stroke="#52e652" stroke-width="1.35" stroke-linejoin="round"/>
<g fill="url(#gr)">
<circle cx="131.2" cy="77.4" r="4.2"/>
<circle cx="141.8" cy="75.6" r="4.2"/>
<circle cx="152.5" cy="71.0" r="4.5"/>
<circle cx="163.1" cy="62.6" r="4.7"/>
<circle cx="173.7" cy="52.0" r="4.9"/>
<circle cx="184.3" cy="40.4" r="5.2"/>
<circle cx="195.0" cy="28.0" r="5.4"/>
<circle cx="280.0" cy="108.6" r="3.7"/>
<circle cx="280.0" cy="115.4" r="3.7"/>
<circle cx="290.6" cy="146.6" r="3.7"/>
<circle cx="290.6" cy="152.4" r="3.7"/>
<circle cx="301.2" cy="187.4" r="3.7"/>
<circle cx="301.2" cy="191.6" r="3.7"/>
<circle cx="311.8" cy="224.6" r="3.5"/>
<circle cx="311.8" cy="228.0" r="3.5"/>
<circle cx="280.0" cy="37.0" r="4.9"/>
<circle cx="290.6" cy="58.6" r="4.0"/>
<circle cx="301.2" cy="83.0" r="3.7"/>
<circle cx="311.8" cy="107.0" r="3.6"/>
<circle cx="322.5" cy="126.6" r="3.6"/>
<circle cx="333.1" cy="134.0" r="3.5"/>
<circle cx="333.1" cy="134.0" r="3.5"/>
<circle cx="345.5" cy="123.6" r="3.6"/>
<circle cx="357.8" cy="99.6" r="3.6"/>
<circle cx="370.2" cy="71.4" r="3.7"/>
<circle cx="382.6" cy="43.4" r="4.0"/>
<circle cx="394.9" cy="16.0" r="4.3"/>
<circle cx="357.8" cy="213.6" r="3.5"/>
<circle cx="357.8" cy="217.6" r="3.5"/>
<circle cx="370.2" cy="167.6" r="3.5"/>
<circle cx="370.2" cy="173.0" r="3.5"/>
<circle cx="382.6" cy="119.4" r="3.5"/>
<circle cx="382.6" cy="125.6" r="3.5"/>
<circle cx="394.9" cy="73.6" r="3.5"/>
<circle cx="394.9" cy="81.0" r="3.5"/>
<circle cx="311.8" cy="245.0" r="0.1"/>
<circle cx="322.5" cy="254.0" r="3.2"/>
<circle cx="333.1" cy="264.0" r="3.2"/>
<circle cx="333.1" cy="264.0" r="3.2"/>
<circle cx="345.5" cy="251.0" r="3.2"/>
<circle cx="357.8" cy="248.0" r="0.1"/>
<circle cx="646.6" cy="29.5" r="4.5"/>
<circle cx="652.7" cy="40.7" r="4.3"/>
<circle cx="652.7" cy="45.3" r="4.3"/>
<circle cx="658.7" cy="51.2" r="4.3"/>
<circle cx="658.7" cy="56.5" r="4.3"/>
<circle cx="664.8" cy="61.7" r="4.3"/>
<circle cx="664.8" cy="65.0" r="4.3"/>
<circle cx="670.8" cy="69.6" r="4.3"/>
<circle cx="670.8" cy="72.2" r="4.3"/>
<circle cx="676.9" cy="75.5" r="4.3"/>
<circle cx="682.9" cy="77.5" r="4.3"/>
</g><g fill="url(#gb)">
<circle cx="131.2" cy="77.4" r="2.0"/>
<circle cx="141.8" cy="75.6" r="2.0"/>
<circle cx="152.5" cy="71.0" r="2.0"/>
<circle cx="163.1" cy="62.6" r="2.0"/>
<circle cx="173.7" cy="52.0" r="2.0"/>
<circle cx="184.3" cy="40.4" r="2.0"/>
<circle cx="195.0" cy="28.0" r="2.0"/>
<circle cx="131.2" cy="128.0" r="3.3"/>
<circle cx="141.8" cy="127.0" r="3.3"/>
<circle cx="152.5" cy="121.6" r="3.3"/>
<circle cx="152.5" cy="124.4" r="3.3"/>
<circle cx="163.1" cy="116.0" r="3.3"/>
<circle cx="163.1" cy="119.0" r="3.3"/>
<circle cx="173.7" cy="107.0" r="3.3"/>
<circle cx="173.7" cy="111.0" r="3.3"/>
<circle cx="184.3" cy="96.0" r="3.3"/>
<circle cx="184.3" cy="100.0" r="3.3"/>
<circle cx="195.0" cy="83.6" r="3.3"/>
<circle cx="195.0" cy="87.0" r="3.3"/>
<circle cx="205.6" cy="72.0" r="3.3"/>
<circle cx="216.2" cy="60.4" r="3.3"/>
<circle cx="226.8" cy="50.6" r="3.3"/>
<circle cx="226.8" cy="53.6" r="3.3"/>
<circle cx="237.5" cy="46.0" r="3.3"/>
<circle cx="237.5" cy="50.0" r="3.3"/>
<circle cx="248.1" cy="48.0" r="3.3"/>
<circle cx="248.1" cy="53.0" r="3.3"/>
<circle cx="258.7" cy="57.6" r="3.3"/>
<circle cx="258.7" cy="63.6" r="3.3"/>
<circle cx="269.3" cy="78.0" r="3.3"/>
<circle cx="269.3" cy="84.6" r="3.3"/>
<circle cx="280.0" cy="108.6" r="3.3"/>
<circle cx="280.0" cy="115.4" r="3.3"/>
<circle cx="280.0" cy="108.6" r="3.1"/>
<circle cx="280.0" cy="115.4" r="3.1"/>
<circle cx="290.6" cy="146.6" r="3.1"/>
<circle cx="290.6" cy="152.4" r="3.1"/>
<circle cx="301.2" cy="187.4" r="3.1"/>
<circle cx="301.2" cy="191.6" r="3.1"/>
<circle cx="301.2" cy="187.4" r="0.1"/>
<circle cx="301.2" cy="191.6" r="0.1"/>
<circle cx="311.8" cy="223.6" r="0.1"/>
<circle cx="311.8" cy="226.8" r="0.1"/>
<circle cx="311.8" cy="224.6" r="3.0"/>
<circle cx="311.8" cy="228.0" r="3.0"/>
<circle cx="280.0" cy="37.0" r="3.0"/>
<circle cx="290.6" cy="58.6" r="3.0"/>
<circle cx="301.2" cy="83.0" r="3.0"/>
<circle cx="311.8" cy="107.0" r="3.0"/>
<circle cx="322.5" cy="126.6" r="3.0"/>
<circle cx="333.1" cy="134.0" r="3.0"/>
<circle cx="333.1" cy="134.0" r="3.0"/>
<circle cx="345.5" cy="123.6" r="3.0"/>
<circle cx="357.8" cy="99.6" r="3.0"/>
<circle cx="370.2" cy="71.4" r="3.0"/>
<circle cx="382.6" cy="43.4" r="3.0"/>
<circle cx="394.9" cy="16.0" r="3.0"/>
<circle cx="301.2" cy="12.0" r="4.4"/>
<circle cx="311.8" cy="39.0" r="4.4"/>
<circle cx="311.8" cy="45.0" r="4.4"/>
<circle cx="322.5" cy="62.0" r="4.4"/>
<circle cx="322.5" cy="65.6" r="4.4"/>
<circle cx="333.1" cy="72.0" r="4.4"/>
<circle cx="333.1" cy="72.0" r="4.4"/>
<circle cx="345.5" cy="59.6" r="4.4"/>
<circle cx="345.5" cy="63.6" r="4.4"/>
<circle cx="357.8" cy="37.0" r="4.4"/>
<circle cx="370.2" cy="12.0" r="4.4"/>
<circle cx="345.5" cy="246.0" r="0.1"/>
<circle cx="345.5" cy="248.0" r="0.1"/>
<circle cx="357.8" cy="213.6" r="0.1"/>
<circle cx="357.8" cy="217.6" r="0.1"/>
<circle cx="357.8" cy="213.6" r="3.0"/>
<circle cx="357.8" cy="217.6" r="3.0"/>
<circle cx="370.2" cy="167.6" r="3.0"/>
<circle cx="370.2" cy="173.0" r="3.0"/>
<circle cx="382.6" cy="119.4" r="3.0"/>
<circle cx="382.6" cy="125.6" r="3.0"/>
<circle cx="394.9" cy="73.6" r="3.0"/>
<circle cx="394.9" cy="81.0" r="3.0"/>
<circle cx="394.9" cy="73.6" r="3.5"/>
<circle cx="394.9" cy="81.0" r="3.5"/>
<circle cx="407.3" cy="43.0" r="4.3"/>
<circle cx="419.6" cy="10.0" r="4.3"/>
<circle cx="131.2" cy="277.9" r="5.2"/>
<circle cx="131.2" cy="279.3" r="5.2"/>
<circle cx="141.8" cy="277.3" r="5.2"/>
<circle cx="141.8" cy="278.7" r="5.2"/>
<circle cx="152.5" cy="275.9" r="5.2"/>
<circle cx="152.5" cy="277.3" r="5.2"/>
<circle cx="163.1" cy="273.9" r="5.2"/>
<circle cx="163.1" cy="275.3" r="5.2"/>
<circle cx="173.7" cy="271.3" r="5.2"/>
<circle cx="173.7" cy="272.7" r="5.2"/>
<circle cx="184.3" cy="267.9" r="5.2"/>
<circle cx="184.3" cy="269.3" r="5.2"/>
<circle cx="195.0" cy="264.3" r="5.2"/>
<circle cx="195.0" cy="265.7" r="5.2"/>
<circle cx="205.6" cy="260.3" r="5.2"/>
<circle cx="205.6" cy="261.7" r="5.2"/>
<circle cx="216.2" cy="256.3" r="5.2"/>
<circle cx="216.2" cy="257.7" r="5.2"/>
<circle cx="226.8" cy="251.9" r="5.2"/>
<circle cx="226.8" cy="253.3" r="5.2"/>
<circle cx="237.5" cy="248.3" r="5.2"/>
<circle cx="237.5" cy="249.7" r="5.2"/>
<circle cx="248.1" cy="244.9" r="5.2"/>
<circle cx="248.1" cy="246.3" r="5.2"/>
<circle cx="258.7" cy="242.7" r="5.2"/>
<circle cx="258.7" cy="244.1" r="5.2"/>
<circle cx="269.3" cy="241.5" r="5.2"/>
<circle cx="269.3" cy="242.9" r="5.2"/>
<circle cx="280.0" cy="241.5" r="5.2"/>
<circle cx="280.0" cy="242.9" r="5.2"/>
<circle cx="290.6" cy="242.9" r="5.2"/>
<circle cx="290.6" cy="244.3" r="5.2"/>
<circle cx="301.2" cy="244.3" r="5.2"/>
<circle cx="301.2" cy="245.7" r="5.2"/>
<circle cx="311.8" cy="243.9" r="5.2"/>
<circle cx="311.8" cy="245.3" r="5.2"/>
<circle cx="322.5" cy="238.7" r="5.2"/>
<circle cx="322.5" cy="240.1" r="5.2"/>
<circle cx="333.1" cy="235.6" r="5.2"/>
<circle cx="311.8" cy="245.0" r="2.6"/>
<circle cx="322.5" cy="254.0" r="2.6"/>
<circle cx="333.1" cy="264.0" r="2.6"/>
<circle cx="333.1" cy="264.0" r="2.6"/>
<circle cx="345.5" cy="251.0" r="2.6"/>
<circle cx="357.8" cy="248.0" r="2.6"/>
<circle cx="131.2" cy="386.4" r="4.6"/>
<circle cx="141.8" cy="385.8" r="4.6"/>
<circle cx="152.5" cy="384.6" r="4.6"/>
<circle cx="163.1" cy="383.9" r="4.6"/>
<circle cx="173.7" cy="383.6" r="4.6"/>
<circle cx="184.3" cy="383.3" r="4.6"/>
<circle cx="195.0" cy="382.7" r="4.6"/>
<circle cx="205.6" cy="381.8" r="4.6"/>
<circle cx="216.2" cy="379.9" r="4.6"/>
<circle cx="226.8" cy="377.4" r="4.6"/>
<circle cx="237.5" cy="373.6" r="4.6"/>
<circle cx="248.1" cy="368.3" r="4.6"/>
<circle cx="258.7" cy="361.4" r="4.6"/>
<circle cx="269.3" cy="350.1" r="4.6"/>
<circle cx="280.0" cy="333.6" r="4.6"/>
<circle cx="290.6" cy="312.0" r="4.6"/>
<circle cx="301.2" cy="290.6" r="4.6"/>
<circle cx="311.8" cy="277.0" r="4.6"/>
<circle cx="322.5" cy="278.0" r="4.6"/>
<circle cx="333.1" cy="286.0" r="4.6"/>
<circle cx="131.2" cy="386.4" r="4.6"/>
<circle cx="141.8" cy="388.3" r="4.6"/>
<circle cx="152.5" cy="390.8" r="4.6"/>
<circle cx="163.1" cy="392.7" r="4.6"/>
<circle cx="173.7" cy="395.0" r="4.6"/>
<circle cx="184.3" cy="397.1" r="4.6"/>
<circle cx="195.0" cy="398.7" r="4.6"/>
<circle cx="205.6" cy="399.6" r="4.6"/>
<circle cx="216.2" cy="399.3" r="4.6"/>
<circle cx="226.8" cy="397.7" r="4.6"/>
<circle cx="237.5" cy="394.6" r="4.6"/>
<circle cx="248.1" cy="388.3" r="4.6"/>
<circle cx="258.7" cy="378.9" r="4.6"/>
<circle cx="269.3" cy="362.6" r="4.6"/>
<circle cx="280.0" cy="340.7" r="4.6"/>
<circle cx="290.6" cy="317.0" r="4.6"/>
<circle cx="301.2" cy="294.6" r="4.6"/>
<circle cx="311.8" cy="279.6" r="4.6"/>
<circle cx="322.5" cy="279.5" r="4.6"/>
<circle cx="333.1" cy="290.0" r="4.6"/>
<circle cx="131.2" cy="432.4" r="4.6"/>
<circle cx="141.8" cy="431.6" r="4.6"/>
<circle cx="152.5" cy="430.9" r="4.6"/>
<circle cx="163.1" cy="429.0" r="4.6"/>
<circle cx="173.7" cy="426.5" r="4.6"/>
<circle cx="184.3" cy="423.4" r="4.6"/>
<circle cx="195.0" cy="419.6" r="4.6"/>
<circle cx="205.6" cy="415.3" r="4.6"/>
<circle cx="216.2" cy="410.9" r="4.6"/>
<circle cx="226.8" cy="402.1" r="4.6"/>
<circle cx="226.8" cy="406.5" r="4.6"/>
<circle cx="237.5" cy="397.7" r="4.6"/>
<circle cx="237.5" cy="402.7" r="4.6"/>
<circle cx="248.1" cy="395.2" r="4.6"/>
<circle cx="248.1" cy="400.2" r="4.6"/>
<circle cx="258.7" cy="390.8" r="4.6"/>
<circle cx="258.7" cy="395.8" r="4.6"/>
<circle cx="269.3" cy="384.6" r="4.6"/>
<circle cx="280.0" cy="370.8" r="4.6"/>
<circle cx="290.6" cy="358.2" r="4.6"/>
<circle cx="301.2" cy="345.7" r="4.6"/>
<circle cx="301.2" cy="352.6" r="4.6"/>
<circle cx="311.8" cy="329.4" r="4.6"/>
<circle cx="322.5" cy="312.5" r="4.6"/>
<circle cx="237.5" cy="433.4" r="4.6"/>
<circle cx="248.1" cy="421.5" r="4.6"/>
<circle cx="248.1" cy="430.3" r="4.6"/>
<circle cx="258.7" cy="407.1" r="4.6"/>
<circle cx="258.7" cy="420.3" r="4.6"/>
<circle cx="269.3" cy="400.8" r="4.6"/>
<circle cx="269.3" cy="412.8" r="4.6"/>
<circle cx="269.3" cy="424.0" r="4.6"/>
<circle cx="280.0" cy="382.7" r="4.6"/>
<circle cx="280.0" cy="399.6" r="4.6"/>
<circle cx="280.0" cy="402.7" r="4.6"/>
<circle cx="280.0" cy="412.8" r="4.6"/>
<circle cx="290.6" cy="370.8" r="4.6"/>
<circle cx="290.6" cy="390.2" r="4.6"/>
<circle cx="290.6" cy="395.2" r="4.6"/>
<circle cx="290.6" cy="402.1" r="4.6"/>
<circle cx="290.6" cy="412.8" r="4.6"/>
<circle cx="290.6" cy="432.2" r="4.6"/>
<circle cx="301.2" cy="365.8" r="4.6"/>
<circle cx="301.2" cy="392.1" r="4.6"/>
<circle cx="301.2" cy="402.7" r="4.6"/>
<circle cx="301.2" cy="415.3" r="4.6"/>
<circle cx="301.2" cy="419.0" r="4.6"/>
<circle cx="311.8" cy="343.2" r="4.6"/>
<circle cx="311.8" cy="366.4" r="4.6"/>
<circle cx="311.8" cy="401.5" r="4.6"/>
<circle cx="311.8" cy="415.9" r="4.6"/>
<circle cx="322.5" cy="336.3" r="4.6"/>
<circle cx="322.5" cy="346.9" r="4.6"/>
<circle cx="322.5" cy="399.0" r="4.6"/>
<circle cx="322.5" cy="421.5" r="4.6"/>
<circle cx="333.1" cy="338.2" r="4.6"/>
<circle cx="333.1" cy="395.8" r="4.6"/>
<circle cx="333.1" cy="427.8" r="4.6"/>
<circle cx="333.1" cy="235.7" r="4.8"/>
<circle cx="345.5" cy="240.0" r="4.8"/>
<circle cx="357.8" cy="246.3" r="4.8"/>
<circle cx="357.8" cy="250.7" r="4.8"/>
<circle cx="370.2" cy="254.5" r="4.8"/>
<circle cx="370.2" cy="258.8" r="4.8"/>
<circle cx="382.6" cy="263.9" r="4.8"/>
<circle cx="382.6" cy="268.2" r="4.8"/>
<circle cx="394.9" cy="276.4" r="4.8"/>
<circle cx="394.9" cy="279.5" r="4.8"/>
<circle cx="407.3" cy="289.6" r="4.8"/>
<circle cx="407.3" cy="293.9" r="4.8"/>
<circle cx="419.6" cy="301.2" r="4.8"/>
<circle cx="419.6" cy="310.2" r="4.8"/>
<circle cx="432.0" cy="310.6" r="4.8"/>
<circle cx="432.0" cy="326.8" r="4.8"/>
<circle cx="444.4" cy="316.5" r="4.8"/>
<circle cx="444.4" cy="338.4" r="4.8"/>
<circle cx="456.7" cy="319.4" r="4.8"/>
<circle cx="456.7" cy="342.8" r="4.8"/>
<circle cx="469.1" cy="319.9" r="4.8"/>
<circle cx="469.1" cy="342.8" r="4.8"/>
<circle cx="481.5" cy="318.8" r="4.8"/>
<circle cx="481.5" cy="339.7" r="4.8"/>
<circle cx="493.8" cy="316.5" r="4.8"/>
<circle cx="493.8" cy="335.9" r="4.8"/>
<circle cx="506.2" cy="313.7" r="4.8"/>
<circle cx="506.2" cy="331.3" r="4.8"/>
<circle cx="518.5" cy="310.6" r="4.8"/>
<circle cx="518.5" cy="326.3" r="4.8"/>
<circle cx="530.9" cy="307.5" r="4.8"/>
<circle cx="530.9" cy="321.8" r="4.8"/>
<circle cx="543.3" cy="305.2" r="4.8"/>
<circle cx="543.3" cy="318.4" r="4.8"/>
<circle cx="555.6" cy="303.7" r="4.8"/>
<circle cx="555.6" cy="315.9" r="4.8"/>
<circle cx="345.5" cy="276.4" r="4.8"/>
<circle cx="357.8" cy="273.3" r="4.8"/>
<circle cx="357.8" cy="278.9" r="4.8"/>
<circle cx="370.2" cy="279.5" r="4.8"/>
<circle cx="370.2" cy="286.4" r="4.8"/>
<circle cx="382.6" cy="288.9" r="4.8"/>
<circle cx="382.6" cy="296.4" r="4.8"/>
<circle cx="394.9" cy="299.0" r="4.8"/>
<circle cx="394.9" cy="306.5" r="4.8"/>
<circle cx="407.3" cy="310.2" r="4.8"/>
<circle cx="407.3" cy="319.0" r="4.8"/>
<circle cx="419.6" cy="322.8" r="4.8"/>
<circle cx="419.6" cy="331.5" r="4.8"/>
<circle cx="432.0" cy="338.2" r="4.8"/>
<circle cx="432.0" cy="346.3" r="4.8"/>
<circle cx="444.4" cy="354.1" r="4.8"/>
<circle cx="444.4" cy="363.9" r="4.8"/>
<circle cx="456.7" cy="373.9" r="4.8"/>
<circle cx="456.7" cy="383.3" r="4.8"/>
<circle cx="469.1" cy="394.6" r="4.8"/>
<circle cx="469.1" cy="402.7" r="4.8"/>
<circle cx="481.5" cy="414.6" r="4.8"/>
<circle cx="481.5" cy="421.8" r="4.8"/>
<circle cx="493.8" cy="433.4" r="4.8"/>
<circle cx="493.8" cy="440.3" r="4.8"/>
<circle cx="345.5" cy="310.9" r="4.8"/>
<circle cx="345.5" cy="336.3" r="4.7"/>
<circle cx="345.5" cy="349.5" r="4.7"/>
<circle cx="345.5" cy="399.6" r="4.7"/>
<circle cx="345.5" cy="417.8" r="4.7"/>
<circle cx="345.5" cy="424.0" r="4.7"/>
<circle cx="345.5" cy="432.8" r="4.7"/>
<circle cx="357.8" cy="338.2" r="4.7"/>
<circle cx="357.8" cy="341.9" r="4.7"/>
<circle cx="357.8" cy="349.5" r="4.7"/>
<circle cx="357.8" cy="372.0" r="4.7"/>
<circle cx="357.8" cy="402.1" r="4.7"/>
<circle cx="357.8" cy="407.7" r="4.7"/>
<circle cx="357.8" cy="429.0" r="4.7"/>
<circle cx="370.2" cy="355.7" r="4.7"/>
<circle cx="370.2" cy="374.5" r="4.7"/>
<circle cx="370.2" cy="385.2" r="4.7"/>
<circle cx="370.2" cy="397.7" r="4.7"/>
<circle cx="370.2" cy="405.2" r="4.7"/>
<circle cx="370.2" cy="412.1" r="4.7"/>
<circle cx="370.2" cy="419.6" r="4.7"/>
<circle cx="370.2" cy="432.8" r="4.7"/>
<circle cx="382.6" cy="364.5" r="4.7"/>
<circle cx="382.6" cy="390.4" r="4.7"/>
<circle cx="382.6" cy="414.0" r="4.7"/>
<circle cx="382.6" cy="430.3" r="4.7"/>
<circle cx="394.9" cy="370.8" r="4.7"/>
<circle cx="394.9" cy="391.7" r="4.7"/>
<circle cx="394.9" cy="425.9" r="4.7"/>
<circle cx="407.3" cy="377.0" r="4.7"/>
<circle cx="407.3" cy="394.2" r="4.7"/>
<circle cx="407.3" cy="433.4" r="4.7"/>
<circle cx="419.6" cy="385.4" r="4.7"/>
<circle cx="419.6" cy="399.8" r="4.7"/>
<circle cx="432.0" cy="397.3" r="4.7"/>
<circle cx="432.0" cy="409.0" r="4.7"/>
<circle cx="444.4" cy="411.8" r="4.7"/>
<circle cx="444.4" cy="422.2" r="4.7"/>
<circle cx="456.7" cy="427.2" r="4.7"/>
<circle cx="568.0" cy="303.6" r="4.4"/>
<circle cx="574.0" cy="303.6" r="4.4"/>
<circle cx="580.1" cy="304.0" r="4.4"/>
<circle cx="586.1" cy="304.4" r="4.4"/>
<circle cx="592.2" cy="304.8" r="4.4"/>
<circle cx="598.2" cy="305.2" r="4.4"/>
<circle cx="604.3" cy="305.5" r="4.4"/>
<circle cx="610.3" cy="305.6" r="4.4"/>
<circle cx="616.4" cy="305.6" r="4.4"/>
<circle cx="622.4" cy="305.2" r="4.4"/>
<circle cx="628.5" cy="304.0" r="4.4"/>
<circle cx="634.5" cy="301.9" r="4.4"/>
<circle cx="640.6" cy="299.1" r="4.4"/>
<circle cx="646.6" cy="295.0" r="4.4"/>
<circle cx="652.7" cy="290.5" r="4.4"/>
<circle cx="658.7" cy="285.5" r="4.4"/>
<circle cx="664.8" cy="281.0" r="4.4"/>
<circle cx="670.8" cy="277.7" r="4.4"/>
<circle cx="676.9" cy="276.1" r="4.4"/>
<circle cx="682.9" cy="275.4" r="4.4"/>
<circle cx="568.0" cy="315.1" r="4.4"/>
<circle cx="574.0" cy="315.1" r="4.4"/>
<circle cx="580.1" cy="315.5" r="4.4"/>
<circle cx="586.1" cy="316.5" r="4.4"/>
<circle cx="592.2" cy="317.6" r="4.4"/>
<circle cx="598.2" cy="319.0" r="4.4"/>
<circle cx="604.3" cy="320.4" r="4.4"/>
<circle cx="610.3" cy="322.2" r="4.4"/>
<circle cx="616.4" cy="323.9" r="4.4"/>
<circle cx="622.4" cy="325.5" r="4.4"/>
<circle cx="628.5" cy="326.6" r="4.4"/>
<circle cx="634.5" cy="326.9" r="4.4"/>
<circle cx="640.6" cy="325.9" r="4.4"/>
<circle cx="646.6" cy="321.1" r="4.4"/>
<circle cx="652.7" cy="314.8" r="4.4"/>
<circle cx="658.7" cy="306.9" r="4.4"/>
<circle cx="664.8" cy="296.6" r="4.4"/>
<circle cx="670.8" cy="288.0" r="4.4"/>
<circle cx="676.9" cy="282.7" r="4.4"/>
<circle cx="682.9" cy="280.2" r="4.4"/>
<circle cx="616.4" cy="445.7" r="4.6"/>
<circle cx="622.4" cy="432.6" r="4.6"/>
<circle cx="628.5" cy="420.8" r="4.6"/>
<circle cx="634.5" cy="408.6" r="4.6"/>
<circle cx="640.6" cy="397.5" r="4.6"/>
<circle cx="646.6" cy="388.3" r="4.6"/>
<circle cx="652.7" cy="382.0" r="4.6"/>
<circle cx="658.7" cy="379.0" r="4.6"/>
<circle cx="664.8" cy="378.6" r="4.6"/>
<circle cx="670.8" cy="380.4" r="4.6"/>
<circle cx="676.9" cy="382.7" r="4.6"/>
<circle cx="682.9" cy="385.5" r="4.6"/>
<circle cx="628.5" cy="440.2" r="4.6"/>
<circle cx="634.5" cy="432.6" r="4.6"/>
<circle cx="640.6" cy="426.6" r="4.6"/>
<circle cx="646.6" cy="419.4" r="4.6"/>
<circle cx="652.7" cy="412.2" r="4.6"/>
<circle cx="658.7" cy="405.6" r="4.6"/>
<circle cx="664.8" cy="400.0" r="4.6"/>
<circle cx="670.8" cy="394.8" r="4.6"/>
<circle cx="676.9" cy="390.3" r="4.6"/>
<circle cx="682.9" cy="386.9" r="4.6"/>
<circle cx="664.8" cy="435.3" r="4.6"/>
<circle cx="670.8" cy="433.3" r="4.6"/>
<circle cx="676.9" cy="431.9" r="4.6"/>
<circle cx="682.9" cy="431.2" r="4.6"/>
<circle cx="634.5" cy="31.5" r="0.1"/>
<circle cx="640.6" cy="40.7" r="3.2"/>
<circle cx="646.6" cy="50.5" r="3.2"/>
<circle cx="646.6" cy="58.4" r="3.2"/>
<circle cx="652.7" cy="70.9" r="3.2"/>
<circle cx="652.7" cy="76.1" r="3.2"/>
<circle cx="658.7" cy="89.3" r="3.2"/>
<circle cx="658.7" cy="93.2" r="3.2"/>
<circle cx="664.8" cy="105.0" r="3.2"/>
<circle cx="664.8" cy="108.3" r="3.2"/>
<circle cx="670.8" cy="117.5" r="3.2"/>
<circle cx="670.8" cy="118.8" r="3.2"/>
<circle cx="676.9" cy="124.7" r="3.2"/>
<circle cx="682.9" cy="128.0" r="3.2"/>
<circle cx="646.6" cy="29.5" r="2.4"/>
<circle cx="652.7" cy="40.7" r="2.4"/>
<circle cx="652.7" cy="45.3" r="2.4"/>
<circle cx="658.7" cy="51.2" r="2.4"/>
<circle cx="658.7" cy="56.5" r="2.4"/>
<circle cx="664.8" cy="61.7" r="2.4"/>
<circle cx="664.8" cy="65.0" r="2.4"/>
<circle cx="670.8" cy="69.6" r="2.4"/>
<circle cx="670.8" cy="72.2" r="2.4"/>
<circle cx="676.9" cy="75.5" r="2.4"/>
<circle cx="682.9" cy="77.5" r="2.4"/>
</g></g>
<g clip-path="url(#cld)">
<path d="M131.0,536.0 L141.6,532.0 L152.2,524.4 L162.7,513.6 L173.3,502.0 L183.9,492.0M131.0,536.0 L141.6,536.4 L152.2,531.0 L162.7,522.0 L173.3,509.0 L183.9,492.0M131.0,611.0 L141.6,609.6 L152.2,604.4 L162.7,598.0 L173.3,589.0 L183.9,579.6 L194.5,568.0 L205.1,556.4 L215.6,546.4 L226.2,538.0 L236.8,534.4 L247.4,540.0 L257.9,554.0 L268.5,577.0 L279.1,606.0 L289.7,639.6 L300.3,673.6M131.0,611.0 L141.6,611.2 L152.2,609.6 L162.7,604.0 L173.3,596.4 L183.9,586.0 L194.5,574.0 L205.1,560.0 L215.6,546.4 L226.2,538.0 L236.8,538.4 L247.4,546.4 L257.9,561.6 L268.5,585.0 L279.1,613.6 L289.7,645.6 L300.3,677.4M300.3,673.6 L310.8,702.4M300.3,677.4 L310.8,702.4M310.8,702.4 L321.4,718.4 L332.0,724.4M332.0,724.4 L344.3,716.4 L356.5,694.4M356.5,693.0 L368.8,658.0 L381.1,617.0 L393.3,577.6 L405.6,543.6 L417.8,514.4 L430.1,488.0M356.5,693.0 L368.8,663.0 L381.1,624.0 L393.3,586.0 L405.6,553.0 L417.8,525.6 L430.1,508.0M356.5,694.4 L356.5,693.0M289.7,508.0 L300.3,529.0 L310.8,564.0 L321.4,589.0 L332.0,598.6M332.0,598.6 L344.3,586.0 L356.5,554.0 L368.8,513.6 L381.1,476.0M131.0,799.6 L141.6,799.2 L152.2,798.0 L162.7,796.0 L173.3,793.4 L183.9,789.6 L194.5,785.6 L205.1,778.0M131.0,799.6 L141.6,799.2 L152.2,798.0 L162.7,796.0 L173.3,793.4 L183.9,789.6 L194.5,785.6 L205.1,782.0M205.1,780.0 L215.6,768.4M205.1,780.0 L215.6,772.0M215.6,770.2 L226.2,754.4 L236.8,738.0 L247.4,725.0 L257.9,715.6 L268.5,710.0 L279.1,708.4 L289.7,711.0 L300.3,719.6 L310.8,735.6M310.8,735.6 L321.4,755.0 L332.0,762.4M131.0,877.4 L141.6,876.4 L152.2,872.4 L162.7,866.0 L173.3,855.6 L183.9,840.4 L194.5,822.0 L205.1,802.0M205.1,802.0 L215.6,784.0 L226.2,778.4M205.1,802.0 L215.6,788.0 L226.2,778.4M226.2,778.4 L236.8,774.4 L247.4,771.0 L257.9,769.0 L268.5,768.0 L279.1,768.4 L289.7,770.0 L300.3,772.0 L310.8,772.6 L321.4,769.6 L332.0,770.0M332.0,762.4 L344.3,752.0M344.3,752.0 L356.5,729.0 L368.8,713.6 L381.1,706.4 L393.3,704.4 L405.6,708.0 L417.8,715.6 L430.1,727.0 L442.4,741.6 L454.6,759.6 L466.9,778.0M344.3,752.0 L356.5,729.0 L368.8,713.6 L381.1,706.4 L393.3,704.4 L405.6,708.0 L417.8,715.6 L430.1,727.0 L442.4,741.6 L454.6,759.6 L466.9,781.6M479.2,795.8 L491.4,809.6 L503.7,817.4 L515.9,822.3 L528.2,826.7 L540.5,830.1 L552.7,832.5 L565.0,833.6M503.7,832.9 L515.9,837.2 L528.2,840.3 L540.5,842.6 L552.7,844.5 L565.0,845.4M466.9,779.5 L479.2,795.8M466.9,779.5 L479.2,802.4 L491.4,821.9 L503.7,832.9M332.0,770.0 L344.3,767.0 L356.5,774.0 L368.8,783.6M332.0,770.0 L344.3,773.0 L356.5,785.0 L368.8,796.0M368.8,795.6 L381.1,806.0 L393.3,818.2 L405.6,827.6 L417.8,846.2 L430.1,868.0 L442.4,887.1 L454.6,910.3M368.8,804.8 L381.1,814.4 L393.3,825.1 L405.6,833.2 L417.8,852.7 L430.1,872.7 L442.4,893.4 L454.6,915.3M332.0,807.5 L344.3,800.7 L356.5,798.5 L368.8,816.6 L381.1,822.3 L393.3,831.1 L405.6,841.6M332.0,816.6 L344.3,806.9 L356.5,811.6 L368.8,816.6 L381.1,822.3 L393.3,831.1 L405.6,841.6M381.1,796.3 L393.3,811.9M393.3,831.1 L405.6,834.5 L417.8,834.5 L430.1,837.9 L442.4,839.5M442.4,839.8 L454.6,840.6M454.6,840.6 L466.9,842.6 L479.2,847.6 L491.4,859.8M405.6,841.6 L417.8,852.7 L430.1,854.2 L442.4,856.1M442.4,855.9 L454.6,855.4 L466.9,854.3M466.9,854.3 L479.2,854.0 L491.4,861.3M491.4,859.8 L503.7,871.9 L515.9,893.3 L528.2,915.9M491.4,859.8 L503.7,880.8 L515.9,902.6 L528.2,915.9M194.5,901.5 L205.1,893.0 L215.6,887.0M226.2,883.4 L236.8,880.0 L247.4,876.7 L257.9,873.4 L268.5,869.2 L279.1,862.1 L289.7,847.0 L300.3,826.6 L310.8,809.8 L321.4,804.0 L332.0,807.5M226.2,883.4 L236.8,880.0 L247.4,876.7 L257.9,873.4 L268.5,869.2 L279.1,865.0 L289.7,847.0 L300.3,826.6 L310.8,809.8 L321.4,804.0 L332.0,807.5M215.6,887.0 L226.2,883.4M226.2,899.7 L236.8,895.9 L247.4,891.5M257.9,885.9 L268.5,876.7M215.6,902.0 L226.2,899.7M247.4,891.5 L257.9,885.9M268.5,876.7 L279.1,865.0M257.9,904.1 L268.5,897.2 L279.1,884.6 L289.7,868.3 L300.3,854.6 L310.8,842.6 L321.4,833.2 L332.0,827.9 L344.3,835.1 L356.5,846.4 L368.8,859.6 L381.1,873.7 L393.3,887.1 L405.6,897.2 L417.8,907.8M268.5,901.6 L279.1,894.7 L289.7,879.6 L300.3,860.8 L310.8,855.2 L321.4,849.9 L332.0,848.3 L344.3,852.0 L356.5,860.2 L368.8,872.1 L381.1,889.0 L393.3,904.7M279.1,906.6 L289.7,892.8 L300.3,876.5 L310.8,863.7 L321.4,868.7 L332.0,862.4 L344.3,869.6 L356.5,873.4 L368.8,880.2 L381.1,897.2 L393.3,910.3M289.7,906.6 L300.3,897.2 L310.8,880.5 L321.4,868.7M300.3,907.8 L310.8,891.3 L321.4,890.9 L332.0,890.3 L344.3,893.4 L356.5,899.0 L368.8,900.9 L381.1,910.3M279.1,897.5 L289.7,884.6 L300.3,868.3 L310.8,858.3M344.3,873.4 L356.5,884.3 L368.8,891.3 L381.1,906.6M356.5,867.7 L368.8,891.3M368.8,864.2 L381.1,872.1 L393.3,878.4 L405.6,885.9 L417.8,897.2 L430.1,906.6M310.8,902.8 L321.4,900.9 L332.0,903.4 L344.3,901.6M565.0,833.6 L571.1,832.9 L577.2,832.0 L583.4,830.9 L589.5,829.4 L595.6,827.3 L601.7,825.1 L607.8,822.7 L614.0,820.0 L620.1,817.4 L626.2,814.6 L632.3,811.9 L638.5,809.6 L644.6,807.1 L650.7,804.9 L656.8,802.4 L662.9,800.2 L669.1,798.2 L675.2,797.4 L681.3,798.7M565.0,845.4 L571.1,845.1 L577.2,844.5 L583.4,843.4 L589.5,841.8 L595.6,839.8 L601.7,837.9 L607.8,836.1 L614.0,834.5 L620.1,832.9 L626.2,831.7 L632.3,830.9 L638.5,830.1 L644.6,829.4 L650.7,827.8 L656.8,823.9 L662.9,818.0 L669.1,810.7 L675.2,804.4 L681.3,800.8M638.5,915.9 L644.6,901.8 L650.7,888.6 L656.8,878.0 L662.9,873.0 L669.1,871.9M669.1,871.9 L675.2,873.8 L681.3,877.7M650.7,915.9 L656.8,905.7 L662.9,896.8M662.9,896.8 L669.1,888.6 L675.2,882.4 L681.3,878.5M650.7,503.9 L656.8,512.2 L662.9,520.3 L669.1,528.1 L675.2,533.0 L681.3,536.2M620.1,503.1 L626.2,510.9 L632.3,517.9 L638.5,534.0 L644.6,550.2 L650.7,566.2 L656.8,580.3 L662.9,592.0 L669.1,602.1 L675.2,607.9 L681.3,611.0M620.1,503.1 L626.2,510.9 L632.3,525.7 L638.5,541.3 L644.6,556.9 L650.7,572.0 L656.8,585.7 L662.9,596.6 L669.1,602.1 L675.2,607.9 L681.3,611.0" fill="none" stroke="#1fe61f" stroke-width="2.1" stroke-linejoin="round"/>
<g fill="url(#gr)">
<circle cx="205.1" cy="780.0" r="0.1"/>
<circle cx="215.6" cy="768.4" r="3.3"/>
<circle cx="215.6" cy="772.0" r="3.3"/>
<circle cx="215.6" cy="770.2" r="0.1"/>
<circle cx="226.2" cy="754.4" r="5.6"/>
<circle cx="236.8" cy="738.0" r="5.8"/>
<circle cx="247.4" cy="725.0" r="6.0"/>
<circle cx="257.9" cy="715.6" r="6.0"/>
<circle cx="268.5" cy="710.0" r="6.0"/>
<circle cx="279.1" cy="708.4" r="6.0"/>
<circle cx="289.7" cy="711.0" r="5.4"/>
<circle cx="300.3" cy="719.6" r="4.6"/>
<circle cx="310.8" cy="735.6" r="3.7"/>
<circle cx="131.0" cy="877.4" r="3.5"/>
<circle cx="141.6" cy="876.4" r="3.7"/>
<circle cx="152.2" cy="872.4" r="4.2"/>
<circle cx="162.7" cy="866.0" r="4.7"/>
<circle cx="173.3" cy="855.6" r="5.2"/>
<circle cx="183.9" cy="840.4" r="5.8"/>
<circle cx="194.5" cy="822.0" r="6.0"/>
<circle cx="205.1" cy="802.0" r="5.9"/>
<circle cx="344.3" cy="752.0" r="0.1"/>
<circle cx="356.5" cy="729.0" r="4.0"/>
<circle cx="368.8" cy="713.6" r="4.8"/>
<circle cx="381.1" cy="706.4" r="5.6"/>
<circle cx="393.3" cy="704.4" r="6.0"/>
<circle cx="405.6" cy="708.0" r="6.0"/>
<circle cx="417.8" cy="715.6" r="6.0"/>
<circle cx="430.1" cy="727.0" r="5.8"/>
<circle cx="442.4" cy="741.6" r="5.8"/>
<circle cx="454.6" cy="759.6" r="5.8"/>
<circle cx="466.9" cy="778.0" r="5.4"/>
<circle cx="466.9" cy="781.6" r="5.4"/>
<circle cx="466.9" cy="777.9" r="0.1"/>
<circle cx="466.9" cy="781.0" r="0.1"/>
<circle cx="479.2" cy="802.4" r="4.3"/>
<circle cx="491.4" cy="821.9" r="3.0"/>
<circle cx="454.6" cy="840.6" r="0.1"/>
<circle cx="466.9" cy="842.6" r="3.6"/>
<circle cx="479.2" cy="847.6" r="4.7"/>
<circle cx="491.4" cy="859.8" r="6.0"/>
<circle cx="466.9" cy="854.3" r="0.1"/>
<circle cx="479.2" cy="854.0" r="3.2"/>
<circle cx="491.4" cy="861.3" r="0.1"/>
<circle cx="491.4" cy="859.8" r="0.1"/>
<circle cx="503.7" cy="871.9" r="6.7"/>
<circle cx="503.7" cy="880.8" r="6.7"/>
<circle cx="515.9" cy="893.3" r="6.8"/>
<circle cx="515.9" cy="902.6" r="6.8"/>
<circle cx="528.2" cy="915.9" r="6.8"/>
<circle cx="257.9" cy="885.9" r="3.0"/>
<circle cx="268.5" cy="876.7" r="3.2"/>
<circle cx="321.4" cy="833.2" r="5.6"/>
<circle cx="321.4" cy="849.9" r="6.0"/>
<circle cx="321.4" cy="890.9" r="6.4"/>
<circle cx="321.4" cy="900.9" r="5.6"/>
<circle cx="310.8" cy="842.6" r="6.4"/>
<circle cx="310.8" cy="863.7" r="4.3"/>
<circle cx="310.8" cy="880.5" r="3.2"/>
<circle cx="310.8" cy="902.8" r="5.6"/>
<circle cx="300.3" cy="854.6" r="6.0"/>
<circle cx="300.3" cy="860.8" r="5.1"/>
<circle cx="300.3" cy="868.3" r="4.7"/>
<circle cx="300.3" cy="897.2" r="3.4"/>
<circle cx="289.7" cy="868.3" r="5.4"/>
<circle cx="289.7" cy="879.6" r="5.4"/>
<circle cx="289.7" cy="884.6" r="4.6"/>
<circle cx="289.7" cy="892.8" r="3.8"/>
<circle cx="279.1" cy="884.6" r="3.8"/>
<circle cx="279.1" cy="894.7" r="4.0"/>
<circle cx="279.1" cy="897.5" r="4.0"/>
<circle cx="332.0" cy="827.9" r="7.0"/>
<circle cx="332.0" cy="848.3" r="6.7"/>
<circle cx="332.0" cy="890.3" r="6.7"/>
<circle cx="344.3" cy="835.1" r="5.6"/>
<circle cx="344.3" cy="852.0" r="6.4"/>
<circle cx="344.3" cy="893.4" r="6.4"/>
<circle cx="344.3" cy="901.6" r="5.6"/>
<circle cx="356.5" cy="846.4" r="6.4"/>
<circle cx="356.5" cy="860.2" r="4.6"/>
<circle cx="356.5" cy="867.7" r="4.0"/>
<circle cx="368.8" cy="859.6" r="5.6"/>
<circle cx="368.8" cy="872.1" r="6.2"/>
<circle cx="368.8" cy="880.2" r="5.4"/>
<circle cx="368.8" cy="891.3" r="4.6"/>
<circle cx="381.1" cy="873.7" r="4.8"/>
<circle cx="381.1" cy="889.0" r="6.4"/>
<circle cx="381.1" cy="897.2" r="5.6"/>
<circle cx="393.3" cy="887.1" r="3.8"/>
<circle cx="393.3" cy="904.7" r="5.4"/>
<circle cx="669.1" cy="871.9" r="0.1"/>
<circle cx="675.2" cy="873.8" r="3.4"/>
<circle cx="681.3" cy="877.7" r="3.4"/>
<circle cx="662.9" cy="896.8" r="0.1"/>
<circle cx="669.1" cy="888.6" r="3.4"/>
<circle cx="675.2" cy="882.4" r="3.4"/>
<circle cx="681.3" cy="878.5" r="3.4"/>
</g><g fill="url(#gb)">
<circle cx="131.0" cy="536.0" r="4.8"/>
<circle cx="141.6" cy="532.0" r="4.8"/>
<circle cx="141.6" cy="536.4" r="4.8"/>
<circle cx="152.2" cy="524.4" r="4.8"/>
<circle cx="152.2" cy="531.0" r="4.8"/>
<circle cx="162.7" cy="513.6" r="4.8"/>
<circle cx="162.7" cy="522.0" r="4.8"/>
<circle cx="173.3" cy="502.0" r="4.8"/>
<circle cx="173.3" cy="509.0" r="4.8"/>
<circle cx="183.9" cy="492.0" r="4.8"/>
<circle cx="131.0" cy="611.0" r="4.8"/>
<circle cx="141.6" cy="609.6" r="4.8"/>
<circle cx="141.6" cy="611.2" r="4.8"/>
<circle cx="152.2" cy="604.4" r="4.8"/>
<circle cx="152.2" cy="609.6" r="4.8"/>
<circle cx="162.7" cy="598.0" r="4.8"/>
<circle cx="162.7" cy="604.0" r="4.8"/>
<circle cx="173.3" cy="589.0" r="4.8"/>
<circle cx="173.3" cy="596.4" r="4.8"/>
<circle cx="183.9" cy="579.6" r="4.8"/>
<circle cx="183.9" cy="586.0" r="4.8"/>
<circle cx="194.5" cy="568.0" r="4.8"/>
<circle cx="194.5" cy="574.0" r="4.8"/>
<circle cx="205.1" cy="556.4" r="4.8"/>
<circle cx="205.1" cy="560.0" r="4.8"/>
<circle cx="215.6" cy="546.4" r="4.8"/>
<circle cx="226.2" cy="538.0" r="4.8"/>
<circle cx="236.8" cy="534.4" r="4.8"/>
<circle cx="236.8" cy="538.4" r="4.8"/>
<circle cx="247.4" cy="540.0" r="4.8"/>
<circle cx="247.4" cy="546.4" r="4.8"/>
<circle cx="257.9" cy="554.0" r="4.8"/>
<circle cx="257.9" cy="561.6" r="4.8"/>
<circle cx="268.5" cy="577.0" r="4.8"/>
<circle cx="268.5" cy="585.0" r="4.8"/>
<circle cx="279.1" cy="606.0" r="4.8"/>
<circle cx="279.1" cy="613.6" r="4.8"/>
<circle cx="289.7" cy="639.6" r="4.8"/>
<circle cx="289.7" cy="645.6" r="4.8"/>
<circle cx="300.3" cy="673.6" r="4.8"/>
<circle cx="300.3" cy="677.4" r="4.8"/>
<circle cx="300.3" cy="673.6" r="0.1"/>
<circle cx="300.3" cy="677.4" r="0.1"/>
<circle cx="310.8" cy="702.4" r="0.1"/>
<circle cx="310.8" cy="702.4" r="4.3"/>
<circle cx="321.4" cy="718.4" r="3.4"/>
<circle cx="332.0" cy="724.4" r="3.5"/>
<circle cx="332.0" cy="724.4" r="3.5"/>
<circle cx="344.3" cy="716.4" r="3.4"/>
<circle cx="356.5" cy="694.4" r="4.4"/>
<circle cx="356.5" cy="693.0" r="4.7"/>
<circle cx="368.8" cy="658.0" r="4.7"/>
<circle cx="368.8" cy="663.0" r="4.7"/>
<circle cx="381.1" cy="617.0" r="4.7"/>
<circle cx="381.1" cy="624.0" r="4.7"/>
<circle cx="393.3" cy="577.6" r="4.7"/>
<circle cx="393.3" cy="586.0" r="4.7"/>
<circle cx="405.6" cy="543.6" r="4.7"/>
<circle cx="405.6" cy="553.0" r="4.7"/>
<circle cx="417.8" cy="514.4" r="4.7"/>
<circle cx="417.8" cy="525.6" r="4.7"/>
<circle cx="430.1" cy="488.0" r="4.7"/>
<circle cx="430.1" cy="508.0" r="4.7"/>
<circle cx="289.7" cy="508.0" r="0.1"/>
<circle cx="300.3" cy="529.0" r="4.6"/>
<circle cx="310.8" cy="564.0" r="4.3"/>
<circle cx="321.4" cy="589.0" r="4.1"/>
<circle cx="332.0" cy="598.6" r="4.1"/>
<circle cx="332.0" cy="598.6" r="4.1"/>
<circle cx="344.3" cy="586.0" r="4.1"/>
<circle cx="356.5" cy="554.0" r="4.5"/>
<circle cx="368.8" cy="513.6" r="4.7"/>
<circle cx="381.1" cy="476.0" r="4.3"/>
<circle cx="131.0" cy="799.6" r="5.2"/>
<circle cx="141.6" cy="799.2" r="5.2"/>
<circle cx="152.2" cy="798.0" r="5.2"/>
<circle cx="162.7" cy="796.0" r="5.2"/>
<circle cx="173.3" cy="793.4" r="5.2"/>
<circle cx="183.9" cy="789.6" r="5.2"/>
<circle cx="194.5" cy="785.6" r="5.2"/>
<circle cx="205.1" cy="778.0" r="5.2"/>
<circle cx="205.1" cy="782.0" r="5.2"/>
<circle cx="205.1" cy="780.0" r="2.8"/>
<circle cx="215.6" cy="768.4" r="2.8"/>
<circle cx="215.6" cy="772.0" r="2.8"/>
<circle cx="215.6" cy="770.2" r="2.0"/>
<circle cx="226.2" cy="754.4" r="2.0"/>
<circle cx="236.8" cy="738.0" r="2.0"/>
<circle cx="247.4" cy="725.0" r="2.0"/>
<circle cx="257.9" cy="715.6" r="2.0"/>
<circle cx="268.5" cy="710.0" r="2.0"/>
<circle cx="279.1" cy="708.4" r="2.0"/>
<circle cx="289.7" cy="711.0" r="2.0"/>
<circle cx="300.3" cy="719.6" r="2.0"/>
<circle cx="310.8" cy="735.6" r="2.0"/>
<circle cx="310.8" cy="735.6" r="3.0"/>
<circle cx="321.4" cy="755.0" r="3.2"/>
<circle cx="332.0" cy="762.4" r="4.9"/>
<circle cx="131.0" cy="877.4" r="2.0"/>
<circle cx="141.6" cy="876.4" r="2.0"/>
<circle cx="152.2" cy="872.4" r="2.0"/>
<circle cx="162.7" cy="866.0" r="2.0"/>
<circle cx="173.3" cy="855.6" r="2.0"/>
<circle cx="183.9" cy="840.4" r="2.0"/>
<circle cx="194.5" cy="822.0" r="2.0"/>
<circle cx="205.1" cy="802.0" r="2.0"/>
<circle cx="205.1" cy="802.0" r="0.1"/>
<circle cx="215.6" cy="784.0" r="3.5"/>
<circle cx="215.6" cy="788.0" r="3.5"/>
<circle cx="226.2" cy="778.4" r="0.1"/>
<circle cx="226.2" cy="778.4" r="5.4"/>
<circle cx="236.8" cy="774.4" r="5.4"/>
<circle cx="247.4" cy="771.0" r="5.4"/>
<circle cx="257.9" cy="769.0" r="5.4"/>
<circle cx="268.5" cy="768.0" r="5.4"/>
<circle cx="279.1" cy="768.4" r="5.4"/>
<circle cx="289.7" cy="770.0" r="5.4"/>
<circle cx="300.3" cy="772.0" r="5.4"/>
<circle cx="310.8" cy="772.6" r="5.4"/>
<circle cx="321.4" cy="769.6" r="4.9"/>
<circle cx="332.0" cy="770.0" r="3.2"/>
<circle cx="332.0" cy="762.4" r="0.1"/>
<circle cx="344.3" cy="752.0" r="3.2"/>
<circle cx="344.3" cy="752.0" r="2.0"/>
<circle cx="356.5" cy="729.0" r="2.0"/>
<circle cx="368.8" cy="713.6" r="2.0"/>
<circle cx="381.1" cy="706.4" r="2.0"/>
<circle cx="393.3" cy="704.4" r="2.0"/>
<circle cx="405.6" cy="708.0" r="2.0"/>
<circle cx="417.8" cy="715.6" r="2.0"/>
<circle cx="430.1" cy="727.0" r="2.0"/>
<circle cx="442.4" cy="741.6" r="2.0"/>
<circle cx="454.6" cy="759.6" r="2.0"/>
<circle cx="466.9" cy="778.0" r="2.0"/>
<circle cx="466.9" cy="781.6" r="2.0"/>
<circle cx="466.9" cy="777.9" r="0.1"/>
<circle cx="466.9" cy="781.0" r="0.1"/>
<circle cx="479.2" cy="802.4" r="2.7"/>
<circle cx="491.4" cy="821.9" r="2.7"/>
<circle cx="479.2" cy="795.8" r="3.0"/>
<circle cx="491.4" cy="809.6" r="3.3"/>
<circle cx="503.7" cy="817.4" r="3.6"/>
<circle cx="515.9" cy="822.3" r="3.9"/>
<circle cx="528.2" cy="826.7" r="4.2"/>
<circle cx="540.5" cy="830.1" r="4.3"/>
<circle cx="552.7" cy="832.5" r="4.3"/>
<circle cx="565.0" cy="833.6" r="4.4"/>
<circle cx="503.7" cy="832.9" r="3.6"/>
<circle cx="515.9" cy="837.2" r="3.9"/>
<circle cx="528.2" cy="840.3" r="4.2"/>
<circle cx="540.5" cy="842.6" r="4.3"/>
<circle cx="552.7" cy="844.5" r="4.3"/>
<circle cx="565.0" cy="845.4" r="4.4"/>
<circle cx="332.0" cy="770.0" r="3.2"/>
<circle cx="344.3" cy="767.0" r="5.4"/>
<circle cx="344.3" cy="773.0" r="5.4"/>
<circle cx="356.5" cy="774.0" r="5.4"/>
<circle cx="356.5" cy="785.0" r="5.4"/>
<circle cx="368.8" cy="783.6" r="5.4"/>
<circle cx="368.8" cy="796.0" r="5.4"/>
<circle cx="368.8" cy="795.6" r="4.5"/>
<circle cx="368.8" cy="804.8" r="4.5"/>
<circle cx="381.1" cy="806.0" r="4.5"/>
<circle cx="381.1" cy="814.4" r="4.5"/>
<circle cx="393.3" cy="818.2" r="4.5"/>
<circle cx="393.3" cy="825.1" r="4.5"/>
<circle cx="405.6" cy="827.6" r="4.5"/>
<circle cx="405.6" cy="833.2" r="4.5"/>
<circle cx="417.8" cy="846.2" r="4.5"/>
<circle cx="417.8" cy="852.7" r="4.5"/>
<circle cx="430.1" cy="868.0" r="4.5"/>
<circle cx="430.1" cy="872.7" r="4.5"/>
<circle cx="442.4" cy="887.1" r="4.5"/>
<circle cx="442.4" cy="893.4" r="4.5"/>
<circle cx="454.6" cy="910.3" r="4.5"/>
<circle cx="454.6" cy="915.3" r="4.5"/>
<circle cx="332.0" cy="807.5" r="4.5"/>
<circle cx="332.0" cy="816.6" r="4.5"/>
<circle cx="344.3" cy="800.7" r="4.5"/>
<circle cx="344.3" cy="806.9" r="4.5"/>
<circle cx="356.5" cy="798.5" r="4.5"/>
<circle cx="356.5" cy="811.6" r="4.5"/>
<circle cx="368.8" cy="816.6" r="4.5"/>
<circle cx="381.1" cy="822.3" r="4.5"/>
<circle cx="393.3" cy="831.1" r="4.5"/>
<circle cx="405.6" cy="841.6" r="4.5"/>
<circle cx="381.1" cy="796.3" r="4.5"/>
<circle cx="393.3" cy="811.9" r="4.5"/>
<circle cx="393.3" cy="831.1" r="0.1"/>
<circle cx="405.6" cy="834.5" r="0.1"/>
<circle cx="417.8" cy="834.5" r="3.2"/>
<circle cx="430.1" cy="837.9" r="3.0"/>
<circle cx="442.4" cy="839.5" r="3.0"/>
<circle cx="442.4" cy="839.8" r="2.9"/>
<circle cx="454.6" cy="840.6" r="2.9"/>
<circle cx="454.6" cy="840.6" r="2.6"/>
<circle cx="466.9" cy="842.6" r="2.6"/>
<circle cx="479.2" cy="847.6" r="2.6"/>
<circle cx="491.4" cy="859.8" r="2.6"/>
<circle cx="405.6" cy="841.6" r="0.1"/>
<circle cx="417.8" cy="852.7" r="0.1"/>
<circle cx="430.1" cy="854.2" r="3.4"/>
<circle cx="442.4" cy="856.1" r="3.2"/>
<circle cx="442.4" cy="855.9" r="2.9"/>
<circle cx="454.6" cy="855.4" r="2.9"/>
<circle cx="466.9" cy="854.3" r="2.9"/>
<circle cx="466.9" cy="854.3" r="2.8"/>
<circle cx="479.2" cy="854.0" r="2.8"/>
<circle cx="491.4" cy="861.3" r="2.8"/>
<circle cx="491.4" cy="859.8" r="1.6"/>
<circle cx="503.7" cy="871.9" r="1.6"/>
<circle cx="503.7" cy="880.8" r="1.6"/>
<circle cx="515.9" cy="893.3" r="1.6"/>
<circle cx="515.9" cy="902.6" r="1.6"/>
<circle cx="528.2" cy="915.9" r="1.6"/>
<circle cx="194.5" cy="901.5" r="2.9"/>
<circle cx="205.1" cy="893.0" r="2.9"/>
<circle cx="215.6" cy="887.0" r="2.9"/>
<circle cx="215.6" cy="887.0" r="0.1"/>
<circle cx="226.2" cy="883.4" r="3.0"/>
<circle cx="236.8" cy="880.0" r="3.0"/>
<circle cx="247.4" cy="876.7" r="3.0"/>
<circle cx="257.9" cy="873.4" r="2.8"/>
<circle cx="268.5" cy="869.2" r="2.8"/>
<circle cx="279.1" cy="862.1" r="3.0"/>
<circle cx="279.1" cy="865.0" r="3.0"/>
<circle cx="289.7" cy="847.0" r="4.1"/>
<circle cx="300.3" cy="826.6" r="4.4"/>
<circle cx="310.8" cy="809.8" r="4.5"/>
<circle cx="321.4" cy="804.0" r="4.5"/>
<circle cx="332.0" cy="807.5" r="4.6"/>
<circle cx="215.6" cy="902.0" r="2.9"/>
<circle cx="226.2" cy="899.7" r="3.0"/>
<circle cx="236.8" cy="895.9" r="3.0"/>
<circle cx="247.4" cy="891.5" r="3.0"/>
<circle cx="257.9" cy="885.9" r="2.5"/>
<circle cx="268.5" cy="876.7" r="2.5"/>
<circle cx="321.4" cy="833.2" r="4.0"/>
<circle cx="321.4" cy="868.7" r="4.6"/>
<circle cx="310.8" cy="855.2" r="3.2"/>
<circle cx="310.8" cy="858.3" r="3.2"/>
<circle cx="310.8" cy="863.7" r="3.0"/>
<circle cx="310.8" cy="880.5" r="2.4"/>
<circle cx="310.8" cy="891.3" r="4.3"/>
<circle cx="300.3" cy="860.8" r="2.4"/>
<circle cx="300.3" cy="868.3" r="2.7"/>
<circle cx="300.3" cy="876.5" r="3.5"/>
<circle cx="300.3" cy="882.8" r="3.0"/>
<circle cx="300.3" cy="897.2" r="2.7"/>
<circle cx="289.7" cy="868.3" r="3.0"/>
<circle cx="289.7" cy="884.6" r="2.7"/>
<circle cx="289.7" cy="892.8" r="3.0"/>
<circle cx="289.7" cy="899.7" r="3.5"/>
<circle cx="279.1" cy="882.8" r="3.0"/>
<circle cx="279.1" cy="894.7" r="2.7"/>
<circle cx="279.1" cy="897.5" r="2.7"/>
<circle cx="268.5" cy="897.2" r="3.0"/>
<circle cx="268.5" cy="901.6" r="3.5"/>
<circle cx="257.9" cy="904.1" r="2.7"/>
<circle cx="332.0" cy="862.4" r="4.8"/>
<circle cx="332.0" cy="903.4" r="4.0"/>
<circle cx="332.0" cy="816.6" r="4.7"/>
<circle cx="344.3" cy="834.5" r="4.0"/>
<circle cx="344.3" cy="839.5" r="4.0"/>
<circle cx="344.3" cy="869.6" r="4.3"/>
<circle cx="344.3" cy="873.4" r="4.3"/>
<circle cx="356.5" cy="860.2" r="3.0"/>
<circle cx="356.5" cy="867.7" r="2.7"/>
<circle cx="356.5" cy="873.4" r="4.3"/>
<circle cx="356.5" cy="884.3" r="3.0"/>
<circle cx="356.5" cy="899.0" r="4.6"/>
<circle cx="368.8" cy="864.2" r="2.4"/>
<circle cx="368.8" cy="891.3" r="3.0"/>
<circle cx="368.8" cy="900.9" r="3.5"/>
<circle cx="381.1" cy="872.1" r="3.2"/>
<circle cx="393.3" cy="878.4" r="3.5"/>
<circle cx="393.3" cy="887.1" r="3.0"/>
<circle cx="405.6" cy="885.9" r="4.0"/>
<circle cx="405.6" cy="897.2" r="3.2"/>
<circle cx="417.8" cy="897.2" r="4.0"/>
<circle cx="565.0" cy="833.6" r="3.9"/>
<circle cx="571.1" cy="832.9" r="3.9"/>
<circle cx="577.2" cy="832.0" r="3.9"/>
<circle cx="583.4" cy="830.9" r="3.9"/>
<circle cx="589.5" cy="829.4" r="3.9"/>
<circle cx="595.6" cy="827.3" r="3.9"/>
<circle cx="601.7" cy="825.1" r="3.9"/>
<circle cx="607.8" cy="822.7" r="3.9"/>
<circle cx="614.0" cy="820.0" r="3.9"/>
<circle cx="620.1" cy="817.4" r="3.9"/>
<circle cx="626.2" cy="814.6" r="3.9"/>
<circle cx="632.3" cy="811.9" r="3.9"/>
<circle cx="638.5" cy="809.6" r="3.9"/>
<circle cx="644.6" cy="807.1" r="3.9"/>
<circle cx="650.7" cy="804.9" r="3.9"/>
<circle cx="656.8" cy="802.4" r="3.9"/>
<circle cx="662.9" cy="800.2" r="3.9"/>
<circle cx="669.1" cy="798.2" r="3.9"/>
<circle cx="675.2" cy="797.4" r="3.9"/>
<circle cx="681.3" cy="798.7" r="3.9"/>
<circle cx="565.0" cy="845.4" r="3.9"/>
<circle cx="571.1" cy="845.1" r="3.9"/>
<circle cx="577.2" cy="844.5" r="3.9"/>
<circle cx="583.4" cy="843.4" r="3.9"/>
<circle cx="589.5" cy="841.8" r="3.9"/>
<circle cx="595.6" cy="839.8" r="3.9"/>
<circle cx="601.7" cy="837.9" r="3.9"/>
<circle cx="607.8" cy="836.1" r="3.9"/>
<circle cx="614.0" cy="834.5" r="3.9"/>
<circle cx="620.1" cy="832.9" r="3.9"/>
<circle cx="626.2" cy="831.7" r="3.9"/>
<circle cx="632.3" cy="830.9" r="3.9"/>
<circle cx="638.5" cy="830.1" r="3.9"/>
<circle cx="644.6" cy="829.4" r="3.9"/>
<circle cx="650.7" cy="827.8" r="3.9"/>
<circle cx="656.8" cy="823.9" r="3.9"/>
<circle cx="662.9" cy="818.0" r="3.9"/>
<circle cx="669.1" cy="810.7" r="3.9"/>
<circle cx="675.2" cy="804.4" r="3.9"/>
<circle cx="681.3" cy="800.8" r="3.9"/>
<circle cx="638.5" cy="915.9" r="0.1"/>
<circle cx="644.6" cy="901.8" r="3.4"/>
<circle cx="650.7" cy="888.6" r="3.2"/>
<circle cx="656.8" cy="878.0" r="3.1"/>
<circle cx="662.9" cy="873.0" r="3.1"/>
<circle cx="669.1" cy="871.9" r="3.1"/>
<circle cx="669.1" cy="871.9" r="2.9"/>
<circle cx="675.2" cy="873.8" r="2.9"/>
<circle cx="681.3" cy="877.7" r="2.9"/>
<circle cx="650.7" cy="915.9" r="0.1"/>
<circle cx="656.8" cy="905.7" r="3.1"/>
<circle cx="662.9" cy="896.8" r="3.1"/>
<circle cx="662.9" cy="896.8" r="2.9"/>
<circle cx="669.1" cy="888.6" r="2.9"/>
<circle cx="675.2" cy="882.4" r="2.9"/>
<circle cx="681.3" cy="878.5" r="2.9"/>
<circle cx="650.7" cy="503.9" r="5.0"/>
<circle cx="656.8" cy="512.2" r="5.0"/>
<circle cx="662.9" cy="520.3" r="5.0"/>
<circle cx="669.1" cy="528.1" r="5.0"/>
<circle cx="675.2" cy="533.0" r="5.0"/>
<circle cx="681.3" cy="536.2" r="5.0"/>
<circle cx="620.1" cy="503.1" r="0.1"/>
<circle cx="626.2" cy="510.9" r="5.0"/>
<circle cx="632.3" cy="517.9" r="5.0"/>
<circle cx="632.3" cy="525.7" r="5.0"/>
<circle cx="638.5" cy="534.0" r="5.0"/>
<circle cx="638.5" cy="541.3" r="5.0"/>
<circle cx="644.6" cy="550.2" r="5.0"/>
<circle cx="644.6" cy="556.9" r="5.0"/>
<circle cx="650.7" cy="566.2" r="5.0"/>
<circle cx="650.7" cy="572.0" r="5.0"/>
<circle cx="656.8" cy="580.3" r="5.0"/>
<circle cx="656.8" cy="585.7" r="5.0"/>
<circle cx="662.9" cy="592.0" r="5.0"/>
<circle cx="662.9" cy="596.6" r="5.0"/>
<circle cx="669.1" cy="602.1" r="5.0"/>
<circle cx="675.2" cy="607.9" r="5.0"/>
<circle cx="681.3" cy="611.0" r="5.0"/>
</g></g>
<line x1="487.2" y1="50" x2="487.2" y2="263" stroke="#c4c4cc" stroke-width="1" stroke-dasharray="1.2 1.6"/>
<line x1="514.8" y1="50" x2="514.8" y2="263" stroke="#c4c4cc" stroke-width="1" stroke-dasharray="1.2 1.6"/>
<line x1="468.8" y1="82.5" x2="468.8" y2="92.5" stroke="#a0c832" stroke-width="1.8"/>
<line x1="468.8" y1="92.5" x2="468.8" y2="102.5" stroke="#c080b4" stroke-width="1.8"/>
<line x1="496.1" y1="82.5" x2="496.1" y2="92.5" stroke="#a0c832" stroke-width="1.8"/>
<line x1="496.1" y1="92.5" x2="496.1" y2="102.5" stroke="#c080b4" stroke-width="1.8"/>
<line x1="523.7" y1="82.5" x2="523.7" y2="92.5" stroke="#a0c832" stroke-width="1.8"/>
<line x1="523.7" y1="92.5" x2="523.7" y2="102.5" stroke="#c080b4" stroke-width="1.8"/>
<line x1="477.7" y1="159.3" x2="477.7" y2="169.45" stroke="#a0c832" stroke-width="1.8"/>
<line x1="477.7" y1="169.45" x2="477.7" y2="179.6" stroke="#c080b4" stroke-width="1.8"/>
<line x1="505.6" y1="159.3" x2="505.6" y2="169.45" stroke="#a0c832" stroke-width="1.8"/>
<line x1="505.6" y1="169.45" x2="505.6" y2="179.6" stroke="#c080b4" stroke-width="1.8"/>
<line x1="533.2" y1="159.3" x2="533.2" y2="169.45" stroke="#a0c832" stroke-width="1.8"/>
<line x1="533.2" y1="169.45" x2="533.2" y2="179.6" stroke="#c080b4" stroke-width="1.8"/>
<circle cx="477.7" cy="58.2" r="3.1" fill="url(#gg)"/>
<circle cx="505.6" cy="58.2" r="3.1" fill="url(#gg)"/>
<circle cx="533.2" cy="58.2" r="3.1" fill="url(#gg)"/>
<circle cx="459.6" cy="69.0" r="5.2" fill="url(#gp)"/>
<circle cx="487.2" cy="69.0" r="5.2" fill="url(#gp)"/>
<circle cx="514.8" cy="69.0" r="5.2" fill="url(#gp)"/>
<circle cx="468.8" cy="82.5" r="3.1" fill="url(#gg)"/>
<circle cx="496.1" cy="82.5" r="3.1" fill="url(#gg)"/>
<circle cx="523.7" cy="82.5" r="3.1" fill="url(#gg)"/>
<circle cx="468.8" cy="102.5" r="5.2" fill="url(#gp)"/>
<circle cx="496.1" cy="102.5" r="5.2" fill="url(#gp)"/>
<circle cx="523.7" cy="102.5" r="5.2" fill="url(#gp)"/>
<circle cx="477.7" cy="111.9" r="3.1" fill="url(#gg)"/>
<circle cx="505.6" cy="111.9" r="3.1" fill="url(#gg)"/>
<circle cx="533.2" cy="111.9" r="3.1" fill="url(#gg)"/>
<circle cx="459.6" cy="135.5" r="3.1" fill="url(#gg)"/>
<circle cx="487.2" cy="135.5" r="3.1" fill="url(#gg)"/>
<circle cx="514.8" cy="135.5" r="3.1" fill="url(#gg)"/>
<circle cx="468.8" cy="146.1" r="5.2" fill="url(#gp)"/>
<circle cx="496.1" cy="146.1" r="5.2" fill="url(#gp)"/>
<circle cx="523.7" cy="146.1" r="5.2" fill="url(#gp)"/>
<circle cx="477.7" cy="159.3" r="3.1" fill="url(#gg)"/>
<circle cx="505.6" cy="159.3" r="3.1" fill="url(#gg)"/>
<circle cx="533.2" cy="159.3" r="3.1" fill="url(#gg)"/>
<circle cx="477.7" cy="179.6" r="5.2" fill="url(#gp)"/>
<circle cx="505.6" cy="179.6" r="5.2" fill="url(#gp)"/>
<circle cx="533.2" cy="179.6" r="5.2" fill="url(#gp)"/>
<circle cx="459.6" cy="189.1" r="3.1" fill="url(#gg)"/>
<circle cx="487.2" cy="189.1" r="3.1" fill="url(#gg)"/>
<circle cx="514.8" cy="189.1" r="3.1" fill="url(#gg)"/>
<circle cx="468.8" cy="212.9" r="3.1" fill="url(#gg)"/>
<circle cx="496.1" cy="212.9" r="3.1" fill="url(#gg)"/>
<circle cx="523.7" cy="212.9" r="3.1" fill="url(#gg)"/>
<circle cx="477.7" cy="223.0" r="5.2" fill="url(#gp)"/>
<circle cx="505.6" cy="223.0" r="5.2" fill="url(#gp)"/>
<circle cx="533.2" cy="223.0" r="5.2" fill="url(#gp)"/>
<circle cx="477.7" cy="245.2" r="5.2" fill="url(#gp)"/>
<circle cx="505.6" cy="245.2" r="5.2" fill="url(#gp)"/>
<circle cx="533.2" cy="245.2" r="5.2" fill="url(#gp)"/>
<circle cx="468.8" cy="255.1" r="3.1" fill="url(#gg)"/>
<circle cx="496.1" cy="255.1" r="3.1" fill="url(#gg)"/>
<circle cx="523.7" cy="255.1" r="3.1" fill="url(#gg)"/>
<line x1="484.6" y1="520" x2="484.6" y2="728" stroke="#c4c4cc" stroke-width="1" stroke-dasharray="1.2 1.6"/>
<line x1="512.2" y1="520" x2="512.2" y2="728" stroke="#c4c4cc" stroke-width="1" stroke-dasharray="1.2 1.6"/>
<line x1="484.6" y1="535.6" x2="484.6" y2="545.7" stroke="#c080b4" stroke-width="1.8"/>
<line x1="484.6" y1="545.7" x2="484.6" y2="555.8" stroke="#a0c832" stroke-width="1.8"/>
<line x1="512.2" y1="535.6" x2="512.2" y2="545.7" stroke="#c080b4" stroke-width="1.8"/>
<line x1="512.2" y1="545.7" x2="512.2" y2="555.8" stroke="#a0c832" stroke-width="1.8"/>
<line x1="540.1" y1="535.6" x2="540.1" y2="545.7" stroke="#c080b4" stroke-width="1.8"/>
<line x1="540.1" y1="545.7" x2="540.1" y2="555.8" stroke="#a0c832" stroke-width="1.8"/>
<line x1="466.0" y1="613.0" x2="466.0" y2="623.15" stroke="#c080b4" stroke-width="1.8"/>
<line x1="466.0" y1="623.15" x2="466.0" y2="633.3" stroke="#a0c832" stroke-width="1.8"/>
<line x1="493.8" y1="613.0" x2="493.8" y2="623.15" stroke="#c080b4" stroke-width="1.8"/>
<line x1="493.8" y1="623.15" x2="493.8" y2="633.3" stroke="#a0c832" stroke-width="1.8"/>
<line x1="521.5" y1="613.0" x2="521.5" y2="623.15" stroke="#c080b4" stroke-width="1.8"/>
<line x1="521.5" y1="623.15" x2="521.5" y2="633.3" stroke="#a0c832" stroke-width="1.8"/>
<circle cx="475.2" cy="525.4" r="3.1" fill="url(#gg)"/>
<circle cx="503.0" cy="525.4" r="3.1" fill="url(#gg)"/>
<circle cx="530.9" cy="525.4" r="3.1" fill="url(#gg)"/>
<circle cx="484.6" cy="535.6" r="5.2" fill="url(#gp)"/>
<circle cx="512.2" cy="535.6" r="5.2" fill="url(#gp)"/>
<circle cx="540.1" cy="535.6" r="5.2" fill="url(#gp)"/>
<circle cx="484.6" cy="555.8" r="3.1" fill="url(#gg)"/>
<circle cx="512.2" cy="555.8" r="3.1" fill="url(#gg)"/>
<circle cx="540.1" cy="555.8" r="3.1" fill="url(#gg)"/>
<circle cx="466.0" cy="568.9" r="5.2" fill="url(#gp)"/>
<circle cx="493.8" cy="568.9" r="5.2" fill="url(#gp)"/>
<circle cx="521.5" cy="568.9" r="5.2" fill="url(#gp)"/>
<circle cx="475.2" cy="579.8" r="3.1" fill="url(#gg)"/>
<circle cx="503.0" cy="579.8" r="3.1" fill="url(#gg)"/>
<circle cx="530.9" cy="579.8" r="3.1" fill="url(#gg)"/>
<circle cx="484.6" cy="603.2" r="3.1" fill="url(#gg)"/>
<circle cx="512.2" cy="603.2" r="3.1" fill="url(#gg)"/>
<circle cx="540.1" cy="603.2" r="3.1" fill="url(#gg)"/>
<circle cx="466.0" cy="613.0" r="5.2" fill="url(#gp)"/>
<circle cx="493.8" cy="613.0" r="5.2" fill="url(#gp)"/>
<circle cx="521.5" cy="613.0" r="5.2" fill="url(#gp)"/>
<circle cx="466.0" cy="633.3" r="3.1" fill="url(#gg)"/>
<circle cx="493.8" cy="633.3" r="3.1" fill="url(#gg)"/>
<circle cx="521.5" cy="633.3" r="3.1" fill="url(#gg)"/>
<circle cx="475.2" cy="646.5" r="5.2" fill="url(#gp)"/>
<circle cx="503.0" cy="646.5" r="5.2" fill="url(#gp)"/>
<circle cx="530.9" cy="646.5" r="5.2" fill="url(#gp)"/>
<circle cx="484.6" cy="656.8" r="3.1" fill="url(#gg)"/>
<circle cx="512.2" cy="656.8" r="3.1" fill="url(#gg)"/>
<circle cx="540.1" cy="656.8" r="3.1" fill="url(#gg)"/>
<circle cx="466.0" cy="680.5" r="3.1" fill="url(#gg)"/>
<circle cx="493.8" cy="680.5" r="3.1" fill="url(#gg)"/>
<circle cx="521.5" cy="680.5" r="3.1" fill="url(#gg)"/>
<circle cx="475.2" cy="690.7" r="5.2" fill="url(#gp)"/>
<circle cx="503.0" cy="690.7" r="5.2" fill="url(#gp)"/>
<circle cx="530.9" cy="690.7" r="5.2" fill="url(#gp)"/>
<circle cx="475.2" cy="712.5" r="5.2" fill="url(#gp)"/>
<circle cx="503.0" cy="712.5" r="5.2" fill="url(#gp)"/>
<circle cx="530.9" cy="712.5" r="5.2" fill="url(#gp)"/>
<circle cx="466.0" cy="722.6" r="3.1" fill="url(#gg)"/>
<circle cx="493.8" cy="722.6" r="3.1" fill="url(#gg)"/>
<circle cx="521.5" cy="722.6" r="3.1" fill="url(#gg)"/>
<circle cx="574.4" cy="192.8" r="4.7" fill="url(#gr)"/><circle cx="574.9" cy="218.3" r="5.8" fill="url(#gb)"/>
<circle cx="574.0" cy="662.1" r="4.7" fill="url(#gr)"/><circle cx="573.7" cy="688.0" r="5.9" fill="url(#gb)"/>
<rect x="1468.0" y="50.0" width="348.0" height="399.8" fill="none" stroke="#3a2a2a" stroke-width="1.2"/>
<line x1="1468.00" y1="50.60" x2="1487.00" y2="50.60" stroke="#000" stroke-width="2.4"/>
<line x1="1797.00" y1="50.60" x2="1816.00" y2="50.60" stroke="#000" stroke-width="2.4"/>
<line x1="1468.00" y1="250.00" x2="1487.00" y2="250.00" stroke="#000" stroke-width="1.4"/>
<line x1="1797.00" y1="250.00" x2="1816.00" y2="250.00" stroke="#000" stroke-width="1.4"/>
<line x1="1642.30" y1="50.00" x2="1642.30" y2="71.50" stroke="#000" stroke-width="1.4"/>
<line x1="1642.30" y1="428.30" x2="1642.30" y2="449.80" stroke="#000" stroke-width="1.4"/>
<rect x="1471.0" y="521.3" width="346.0" height="398.5" fill="none" stroke="#3a2a2a" stroke-width="1.2"/>
<line x1="1471.00" y1="787.00" x2="1490.00" y2="787.00" stroke="#000" stroke-width="1.4"/>
<line x1="1798.00" y1="787.00" x2="1817.00" y2="787.00" stroke="#000" stroke-width="1.4"/>
<line x1="1644.30" y1="521.30" x2="1644.30" y2="542.80" stroke="#000" stroke-width="1.4"/>
<line x1="1644.30" y1="898.30" x2="1644.30" y2="919.80" stroke="#000" stroke-width="1.4"/>
<rect x="790.8" y="38.0" width="510.20000000000005" height="389.4" fill="none" stroke="#000" stroke-width="3"/>
<line x1="784.20" y1="38.00" x2="790.80" y2="38.00" stroke="#000" stroke-width="1.8"/>
<line x1="784.20" y1="232.70" x2="790.80" y2="232.70" stroke="#000" stroke-width="1.8"/>
<line x1="784.20" y1="427.40" x2="790.80" y2="427.40" stroke="#000" stroke-width="1.8"/>
<line x1="790.80" y1="427.40" x2="790.80" y2="434.20" stroke="#000" stroke-width="1.8"/>
<line x1="892.84" y1="427.40" x2="892.84" y2="434.20" stroke="#000" stroke-width="1.8"/>
<line x1="994.88" y1="427.40" x2="994.88" y2="434.20" stroke="#000" stroke-width="1.8"/>
<line x1="1096.92" y1="427.40" x2="1096.92" y2="434.20" stroke="#000" stroke-width="1.8"/>
<line x1="1198.96" y1="427.40" x2="1198.96" y2="434.20" stroke="#000" stroke-width="1.8"/>
<line x1="1301.00" y1="427.40" x2="1301.00" y2="434.20" stroke="#000" stroke-width="1.8"/>
<rect x="790.8" y="514.8" width="510.20000000000005" height="389.80000000000007" fill="none" stroke="#000" stroke-width="3"/>
<line x1="784.20" y1="514.80" x2="790.80" y2="514.80" stroke="#000" stroke-width="1.8"/>
<line x1="784.20" y1="709.70" x2="790.80" y2="709.70" stroke="#000" stroke-width="1.8"/>
<line x1="784.20" y1="904.60" x2="790.80" y2="904.60" stroke="#000" stroke-width="1.8"/>
<line x1="790.80" y1="904.60" x2="790.80" y2="911.40" stroke="#000" stroke-width="1.8"/>
<line x1="892.84" y1="904.60" x2="892.84" y2="911.40" stroke="#000" stroke-width="1.8"/>
<line x1="994.88" y1="904.60" x2="994.88" y2="911.40" stroke="#000" stroke-width="1.8"/>
<line x1="1096.92" y1="904.60" x2="1096.92" y2="911.40" stroke="#000" stroke-width="1.8"/>
<line x1="1198.96" y1="904.60" x2="1198.96" y2="911.40" stroke="#000" stroke-width="1.8"/>
<line x1="1301.00" y1="904.60" x2="1301.00" y2="911.40" stroke="#000" stroke-width="1.8"/>
<rect x="132.0" y="37.0" width="550.8" height="397.0" fill="none" stroke="#000" stroke-width="1.9"/>
<line x1="131.00" y1="37.00" x2="683.80" y2="37.00" stroke="#000" stroke-width="2.4"/>
<line x1="131.00" y1="434.00" x2="683.80" y2="434.00" stroke="#000" stroke-width="2.3"/>
<line x1="123.40" y1="37.00" x2="132.00" y2="37.00" stroke="#000" stroke-width="1.8"/>
<line x1="127.40" y1="86.62" x2="132.00" y2="86.62" stroke="#000" stroke-width="1.6"/>
<line x1="123.40" y1="136.25" x2="132.00" y2="136.25" stroke="#000" stroke-width="1.8"/>
<line x1="127.40" y1="185.88" x2="132.00" y2="185.88" stroke="#000" stroke-width="1.6"/>
<line x1="123.40" y1="235.50" x2="132.00" y2="235.50" stroke="#000" stroke-width="1.8"/>
<line x1="127.40" y1="285.12" x2="132.00" y2="285.12" stroke="#000" stroke-width="1.6"/>
<line x1="123.40" y1="334.75" x2="132.00" y2="334.75" stroke="#000" stroke-width="1.8"/>
<line x1="127.40" y1="384.38" x2="132.00" y2="384.38" stroke="#000" stroke-width="1.6"/>
<line x1="123.40" y1="434.00" x2="132.00" y2="434.00" stroke="#000" stroke-width="1.8"/>
<rect x="131.0" y="509.2" width="550.0" height="395.8" fill="none" stroke="#000" stroke-width="1.9"/>
<line x1="130.00" y1="509.20" x2="682.00" y2="509.20" stroke="#000" stroke-width="2.4"/>
<line x1="130.00" y1="905.00" x2="682.00" y2="905.00" stroke="#000" stroke-width="2.3"/>
<line x1="122.40" y1="509.20" x2="131.00" y2="509.20" stroke="#000" stroke-width="1.8"/>
<line x1="126.40" y1="558.67" x2="131.00" y2="558.67" stroke="#000" stroke-width="1.6"/>
<line x1="122.40" y1="608.15" x2="131.00" y2="608.15" stroke="#000" stroke-width="1.8"/>
<line x1="126.40" y1="657.62" x2="131.00" y2="657.62" stroke="#000" stroke-width="1.6"/>
<line x1="122.40" y1="707.10" x2="131.00" y2="707.10" stroke="#000" stroke-width="1.8"/>
<line x1="126.40" y1="756.58" x2="131.00" y2="756.58" stroke="#000" stroke-width="1.6"/>
<line x1="122.40" y1="806.05" x2="131.00" y2="806.05" stroke="#000" stroke-width="1.8"/>
<line x1="126.40" y1="855.52" x2="131.00" y2="855.52" stroke="#000" stroke-width="1.6"/>
<line x1="122.40" y1="905.00" x2="131.00" y2="905.00" stroke="#000" stroke-width="1.8"/>
<line x1="132.00" y1="235.50" x2="682.80" y2="235.50" stroke="#000" stroke-width="1.6" stroke-dasharray="9.4 4.4"/>
<line x1="333.00" y1="37.00" x2="333.00" y2="434.00" stroke="#000" stroke-width="1.9" stroke-dasharray="5.0 3.7" stroke-dashoffset="3"/>
<line x1="568.00" y1="37.00" x2="568.00" y2="434.00" stroke="#000" stroke-width="1.9" stroke-dasharray="5.0 3.7" stroke-dashoffset="3"/>
<line x1="131.00" y1="707.10" x2="681.00" y2="707.10" stroke="#000" stroke-width="1.6" stroke-dasharray="9.4 4.4"/>
<line x1="331.00" y1="509.20" x2="331.00" y2="905.00" stroke="#000" stroke-width="1.9" stroke-dasharray="5.0 3.7" stroke-dashoffset="3"/>
<line x1="565.00" y1="509.20" x2="565.00" y2="905.00" stroke="#000" stroke-width="1.9" stroke-dasharray="5.0 3.7" stroke-dashoffset="3"/>
<text><tspan x="2.1" y="48.2" font-size="37" textLength="11.6" lengthAdjust="spacingAndGlyphs">(</tspan><tspan x="15.5" y="46.6" font-size="32" textLength="17.6" lengthAdjust="spacingAndGlyphs">a</tspan><tspan x="34.9" y="48.2" font-size="37" textLength="11.6" lengthAdjust="spacingAndGlyphs">)</tspan></text>
<text x="75.8" y="47.4" font-size="30" textLength="42.3" lengthAdjust="spacingAndGlyphs">1.0</text>
<text x="75.8" y="146.6" font-size="30" textLength="42.3" lengthAdjust="spacingAndGlyphs">0.5</text>
<text x="75.8" y="246.3" font-size="30" textLength="42.3" lengthAdjust="spacingAndGlyphs">0.0</text>
<text x="50.2" y="345.7" font-size="30" textLength="67.9" lengthAdjust="spacingAndGlyphs">−0.5</text>
<text x="50.2" y="446.0" font-size="30" textLength="67.9" lengthAdjust="spacingAndGlyphs">−1.0</text>
<text transform="translate(31,341.9) rotate(-90)" font-size="35" textLength="205.6" lengthAdjust="spacingAndGlyphs">Energy (eV)</text>
<text x="114.9" y="464.9" font-size="30" textLength="30.4" lengthAdjust="spacingAndGlyphs" font-style="italic">M</text>
<text x="319.3" y="464.9" font-size="30" textLength="22.5" lengthAdjust="spacingAndGlyphs" font-style="italic">Γ</text>
<text x="553.4" y="464.9" font-size="30" textLength="27.4" lengthAdjust="spacingAndGlyphs" font-style="italic">K</text>
<text x="665.6" y="464.9" font-size="30" textLength="30.4" lengthAdjust="spacingAndGlyphs" font-style="italic">M</text>
<text><tspan x="213.9" y="24.7" font-size="30" textLength="118.1" lengthAdjust="spacingAndGlyphs">InSe/2L</tspan><tspan x="333.0" y="22.2" font-size="30" textLength="14.7" lengthAdjust="spacingAndGlyphs">_</tspan><tspan x="349.1" y="24.7" font-size="30" textLength="31.9" lengthAdjust="spacingAndGlyphs">In</tspan><tspan x="380.7" y="30.2" font-size="21" textLength="10.6" lengthAdjust="spacingAndGlyphs">2</tspan><tspan x="392.2" y="24.7" font-size="30" textLength="33.1" lengthAdjust="spacingAndGlyphs">Se</tspan><tspan x="425.1" y="30.2" font-size="21" textLength="10.6" lengthAdjust="spacingAndGlyphs">3</tspan><tspan x="442.9" y="29.0" font-size="40" text-anchor="middle">↓</tspan><tspan x="458.3" y="29.0" font-size="40" text-anchor="middle">↓</tspan> <tspan x="479.6" y="24.7" font-size="30" textLength="63.4" lengthAdjust="spacingAndGlyphs">with</tspan> <tspan x="553.9" y="24.7" font-size="30" textLength="68.3" lengthAdjust="spacingAndGlyphs">SOC</tspan></text>
<text x="584.2" y="199.9" font-size="21" textLength="46.1" lengthAdjust="spacingAndGlyphs">InSe</text>
<text><tspan x="584.4" y="224.4" font-size="21" textLength="21.6" lengthAdjust="spacingAndGlyphs">In</tspan><tspan x="605.9" y="228.4" font-size="15" textLength="7.8" lengthAdjust="spacingAndGlyphs">2</tspan><tspan x="615.1" y="224.4" font-size="21" textLength="23.8" lengthAdjust="spacingAndGlyphs">Se</tspan><tspan x="638.9" y="228.4" font-size="15" textLength="7.9" lengthAdjust="spacingAndGlyphs">3</tspan><tspan x="652.4" y="227.4" font-size="28" text-anchor="middle">↓</tspan><tspan x="662.9" y="227.4" font-size="28" text-anchor="middle">↓</tspan></text>
<text><tspan x="2.1" y="519.1" font-size="37" textLength="11.6" lengthAdjust="spacingAndGlyphs">(</tspan><tspan x="15.5" y="517.5" font-size="32" textLength="19.3" lengthAdjust="spacingAndGlyphs">d</tspan><tspan x="36.6" y="519.1" font-size="37" textLength="11.6" lengthAdjust="spacingAndGlyphs">)</tspan></text>
<text x="75.8" y="519.8" font-size="30" textLength="42.3" lengthAdjust="spacingAndGlyphs">1.0</text>
<text x="75.8" y="618.5" font-size="30" textLength="42.3" lengthAdjust="spacingAndGlyphs">0.5</text>
<text x="75.8" y="717.8" font-size="30" textLength="42.3" lengthAdjust="spacingAndGlyphs">0.0</text>
<text x="50.2" y="817.2" font-size="30" textLength="67.9" lengthAdjust="spacingAndGlyphs">−0.5</text>
<text x="50.2" y="917.4" font-size="30" textLength="67.9" lengthAdjust="spacingAndGlyphs">−1.0</text>
<text transform="translate(31,813.9) rotate(-90)" font-size="35" textLength="205.6" lengthAdjust="spacingAndGlyphs">Energy (eV)</text>
<text x="113.9" y="937.6" font-size="30" textLength="30.4" lengthAdjust="spacingAndGlyphs" font-style="italic">M</text>
<text x="317.3" y="937.6" font-size="30" textLength="22.5" lengthAdjust="spacingAndGlyphs" font-style="italic">Γ</text>
<text x="550.4" y="937.6" font-size="30" textLength="27.4" lengthAdjust="spacingAndGlyphs" font-style="italic">K</text>
<text x="664.6" y="937.6" font-size="30" textLength="30.4" lengthAdjust="spacingAndGlyphs" font-style="italic">M</text>
<text><tspan x="205.4" y="499.4" font-size="30" textLength="115.6" lengthAdjust="spacingAndGlyphs">InSe/2L</tspan><tspan x="321.1" y="496.9" font-size="30" textLength="19.0" lengthAdjust="spacingAndGlyphs">_</tspan><tspan x="341.8" y="499.4" font-size="30" textLength="31.3" lengthAdjust="spacingAndGlyphs">In</tspan><tspan x="372.5" y="504.9" font-size="21" textLength="10.4" lengthAdjust="spacingAndGlyphs">2</tspan><tspan x="383.7" y="499.4" font-size="30" textLength="33.1" lengthAdjust="spacingAndGlyphs">Se</tspan><tspan x="417.1" y="504.9" font-size="21" textLength="10.4" lengthAdjust="spacingAndGlyphs">3</tspan><tspan x="435.3" y="503.7" font-size="40" text-anchor="middle">↑</tspan><tspan x="450.2" y="503.7" font-size="40" text-anchor="middle">↑</tspan> <tspan x="470.6" y="499.4" font-size="30" textLength="64.7" lengthAdjust="spacingAndGlyphs">with</tspan> <tspan x="545.6" y="499.4" font-size="30" textLength="68.4" lengthAdjust="spacingAndGlyphs">SOC</tspan></text>
<text x="584.2" y="669.6" font-size="21" textLength="46.2" lengthAdjust="spacingAndGlyphs">InSe</text>
<text><tspan x="584.4" y="694.6" font-size="21" textLength="21.6" lengthAdjust="spacingAndGlyphs">In</tspan><tspan x="606.1" y="698.6" font-size="15" textLength="7.7" lengthAdjust="spacingAndGlyphs">2</tspan><tspan x="614.7" y="694.6" font-size="21" textLength="24.0" lengthAdjust="spacingAndGlyphs">Se</tspan><tspan x="638.4" y="698.6" font-size="15" textLength="7.8" lengthAdjust="spacingAndGlyphs">3</tspan><tspan x="652.9" y="697.6" font-size="28" text-anchor="middle">↑</tspan><tspan x="663.0" y="697.6" font-size="28" text-anchor="middle">↑</tspan></text>
<text><tspan x="690.1" y="48.2" font-size="37" textLength="11.6" lengthAdjust="spacingAndGlyphs">(</tspan><tspan x="703.5" y="46.6" font-size="32" textLength="19.6" lengthAdjust="spacingAndGlyphs">b</tspan><tspan x="724.9" y="48.2" font-size="37" textLength="11.6" lengthAdjust="spacingAndGlyphs">)</tspan></text>
<text x="738.7" y="49.2" font-size="30" textLength="42.6" lengthAdjust="spacingAndGlyphs">1.0</text>
<text x="738.7" y="243.9" font-size="30" textLength="42.6" lengthAdjust="spacingAndGlyphs">0.5</text>
<text x="738.7" y="438.6" font-size="30" textLength="42.6" lengthAdjust="spacingAndGlyphs">0.0</text>
<text transform="translate(727,283.2) rotate(-90)" font-size="35" textLength="92.0" lengthAdjust="spacingAndGlyphs">WCC</text>
<text x="767.8" y="464.7" font-size="30" textLength="43.9" lengthAdjust="spacingAndGlyphs">0.0</text>
<text x="869.7" y="464.7" font-size="30" textLength="43.9" lengthAdjust="spacingAndGlyphs">0.1</text>
<text x="971.5" y="464.7" font-size="30" textLength="43.9" lengthAdjust="spacingAndGlyphs">0.2</text>
<text x="1073.0" y="464.7" font-size="30" textLength="43.9" lengthAdjust="spacingAndGlyphs">0.3</text>
<text x="1174.9" y="464.7" font-size="30" textLength="43.9" lengthAdjust="spacingAndGlyphs">0.4</text>
<text x="1277.1" y="464.7" font-size="30" textLength="43.9" lengthAdjust="spacingAndGlyphs">0.5</text>
<text x="1035.7" y="495.7" font-size="32" textLength="17.3" lengthAdjust="spacingAndGlyphs" font-style="italic">k</text>
<text><tspan x="690.1" y="518.9" font-size="37" textLength="11.6" lengthAdjust="spacingAndGlyphs">(</tspan><tspan x="703.5" y="517.3" font-size="32" textLength="15.7" lengthAdjust="spacingAndGlyphs">e</tspan><tspan x="721.0" y="518.9" font-size="37" textLength="11.6" lengthAdjust="spacingAndGlyphs">)</tspan></text>
<text x="738.7" y="526.0" font-size="30" textLength="42.6" lengthAdjust="spacingAndGlyphs">1.0</text>
<text x="738.7" y="720.9" font-size="30" textLength="42.6" lengthAdjust="spacingAndGlyphs">0.5</text>
<text x="738.7" y="915.8" font-size="30" textLength="42.6" lengthAdjust="spacingAndGlyphs">0.0</text>
<text transform="translate(727,760.2) rotate(-90)" font-size="35" textLength="92.0" lengthAdjust="spacingAndGlyphs">WCC</text>
<text x="767.8" y="941.9" font-size="30" textLength="43.9" lengthAdjust="spacingAndGlyphs">0.0</text>
<text x="869.7" y="941.9" font-size="30" textLength="43.9" lengthAdjust="spacingAndGlyphs">0.1</text>
<text x="971.5" y="941.9" font-size="30" textLength="43.9" lengthAdjust="spacingAndGlyphs">0.2</text>
<text x="1073.0" y="941.9" font-size="30" textLength="43.9" lengthAdjust="spacingAndGlyphs">0.3</text>
<text x="1174.9" y="941.9" font-size="30" textLength="43.9" lengthAdjust="spacingAndGlyphs">0.4</text>
<text x="1277.1" y="941.9" font-size="30" textLength="43.9" lengthAdjust="spacingAndGlyphs">0.5</text>
<text x="1035.7" y="972.9" font-size="32" textLength="17.3" lengthAdjust="spacingAndGlyphs" font-style="italic">k</text>
<text><tspan x="1331.3" y="48.2" font-size="37" textLength="11.6" lengthAdjust="spacingAndGlyphs">(</tspan><tspan x="1344.7" y="46.6" font-size="32" textLength="15.6" lengthAdjust="spacingAndGlyphs">c</tspan><tspan x="1362.1" y="48.2" font-size="37" textLength="11.6" lengthAdjust="spacingAndGlyphs">)</tspan></text>
<text x="1377.4" y="60.4" font-size="30" textLength="83.9" lengthAdjust="spacingAndGlyphs">−0.06</text>
<text x="1377.4" y="260.0" font-size="30" textLength="83.9" lengthAdjust="spacingAndGlyphs">−0.08</text>
<text x="1377.4" y="457.5" font-size="30" textLength="83.9" lengthAdjust="spacingAndGlyphs">−0.10</text>
<text transform="translate(1361,356.2) rotate(-90)" font-size="35" textLength="204.3" lengthAdjust="spacingAndGlyphs">Energy (eV)</text>
<text x="1628.8" y="480.8" font-size="30" textLength="22.5" lengthAdjust="spacingAndGlyphs" font-style="italic">Γ</text>
<text><tspan x="1333.2" y="519.1" font-size="37" textLength="11.6" lengthAdjust="spacingAndGlyphs">(</tspan><tspan x="1346.6" y="517.5" font-size="32" textLength="13.7" lengthAdjust="spacingAndGlyphs">f</tspan><tspan x="1362.1" y="519.1" font-size="37" textLength="11.6" lengthAdjust="spacingAndGlyphs">)</tspan></text>
<text x="1418.1" y="531.7" font-size="30" textLength="43.2" lengthAdjust="spacingAndGlyphs">0.5</text>
<text x="1443.6" y="665.2" font-size="30" textLength="17.7" lengthAdjust="spacingAndGlyphs">0</text>
<text x="1393.4" y="798.3" font-size="30" textLength="67.9" lengthAdjust="spacingAndGlyphs">−0.5</text>
<text x="1393.4" y="932.5" font-size="30" textLength="67.9" lengthAdjust="spacingAndGlyphs">−1.0</text>
<text transform="translate(1361,817.1) rotate(-90)" font-size="35" textLength="203.8" lengthAdjust="spacingAndGlyphs">Energy (eV)</text>
<text x="1630.1" y="948.4" font-size="30" textLength="22.5" lengthAdjust="spacingAndGlyphs" font-style="italic">Γ</text>
<text x="1461.7" y="948.4" font-size="30" textLength="26.6" lengthAdjust="spacingAndGlyphs" font-style="italic">X</text>
<text><tspan x="1782.4" y="948.4" font-size="30" textLength="26.0" lengthAdjust="spacingAndGlyphs">−</tspan><tspan x="1808.7" y="948.4" font-size="30" textLength="26.6" lengthAdjust="spacingAndGlyphs" font-style="italic">X</tspan></text>
</svg>
</body></html>
